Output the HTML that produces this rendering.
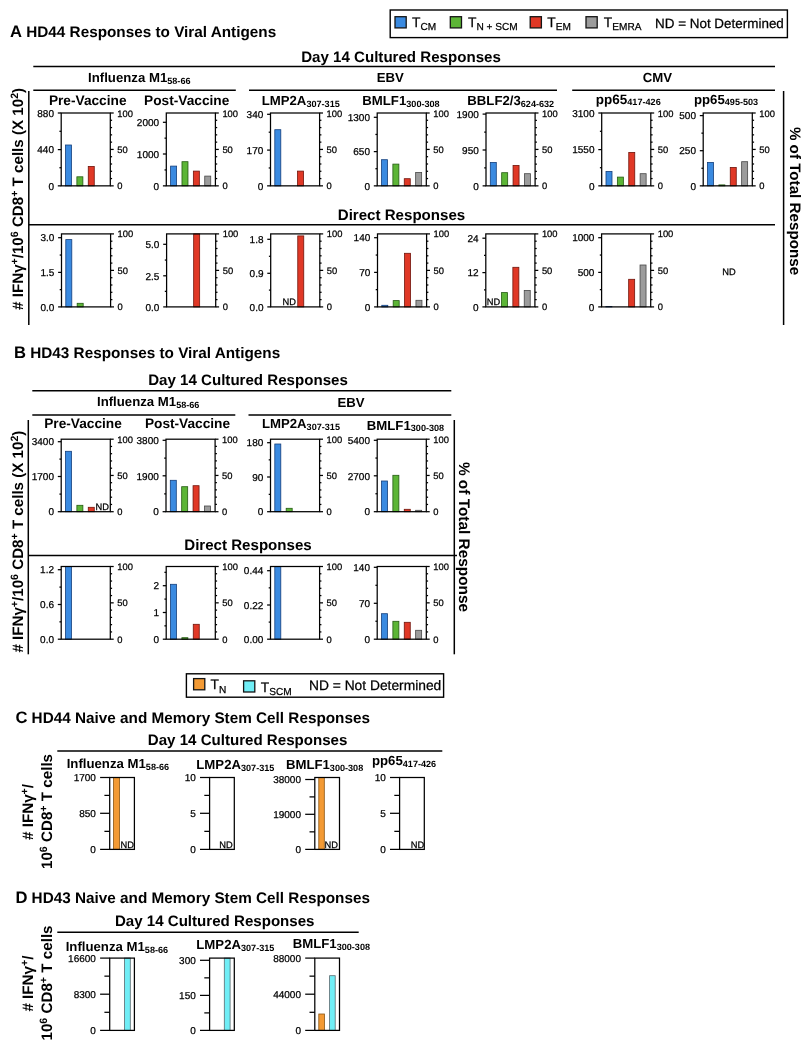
<!DOCTYPE html>
<html><head><meta charset="utf-8"><title>Figure</title>
<style>
html,body{margin:0;padding:0;background:#fff;}
body{width:811px;height:1050px;overflow:hidden;font-family:"Liberation Sans",sans-serif;}
svg{display:block;will-change:transform;font-family:"Liberation Sans",sans-serif;}
</style></head><body>
<svg width="811" height="1050" viewBox="0 0 811 1050" text-rendering="geometricPrecision">
<rect width="811" height="1050" fill="#fff"/>

<rect x="390.2" y="10" width="397.2" height="27.6" fill="#fff" stroke="#000" stroke-width="1.4"/>
<rect x="395.00" y="16.70" width="11.2" height="11.2" fill="#3a8ae0" stroke="#151515" stroke-width="1.3"/>
<text x="412.00" y="27.20" font-size="13.8" stroke="#000" stroke-width="0.25">T<tspan font-size="10.1" dy="3.2">CM</tspan></text>
<rect x="450.30" y="16.70" width="11.2" height="11.2" fill="#5cb536" stroke="#151515" stroke-width="1.3"/>
<text x="468.00" y="27.20" font-size="13.8" stroke="#000" stroke-width="0.25">T<tspan font-size="10.1" dy="3.2">N + SCM</tspan></text>
<rect x="530.20" y="16.70" width="11.2" height="11.2" fill="#e03826" stroke="#151515" stroke-width="1.3"/>
<text x="547.30" y="27.20" font-size="13.8" stroke="#000" stroke-width="0.25">T<tspan font-size="10.1" dy="3.2">EM</tspan></text>
<rect x="586.00" y="16.70" width="11.2" height="11.2" fill="#9c9c9c" stroke="#151515" stroke-width="1.3"/>
<text x="603.80" y="27.20" font-size="13.8" stroke="#000" stroke-width="0.25">T<tspan font-size="10.1" dy="3.2">EMRA</tspan></text>
<text x="655.00" y="28.30" font-size="13.45" text-anchor="start" stroke="#000" stroke-width="0.25">ND = Not Determined</text>
<text x="10" y="37" font-weight="700" font-size="16.6">A<tspan font-size="15.3"> HD44 Responses to Viral Antigens</tspan></text>
<text x="401.00" y="61.70" font-size="15.1" text-anchor="middle" font-weight="700">Day 14 Cultured Responses</text>
<line x1="33.30" y1="66.40" x2="775.00" y2="66.40" stroke="#000" stroke-width="1.5" stroke-linecap="butt"/>
<text x="139.30" y="81.80" font-size="13.2" text-anchor="middle" font-weight="700">Influenza M1<tspan font-size="9.1" dy="1.8">58-66</tspan></text>
<text x="390.30" y="81.50" font-size="13.2" text-anchor="middle" font-weight="700">EBV</text>
<text x="657.40" y="82.40" font-size="13.2" text-anchor="middle" font-weight="700">CMV</text>
<line x1="33.30" y1="90.20" x2="235.80" y2="90.20" stroke="#000" stroke-width="1.5" stroke-linecap="butt"/>
<line x1="249.00" y1="90.20" x2="557.00" y2="90.20" stroke="#000" stroke-width="1.5" stroke-linecap="butt"/>
<line x1="572.20" y1="90.20" x2="775.00" y2="90.20" stroke="#000" stroke-width="1.5" stroke-linecap="butt"/>
<line x1="28.80" y1="91.00" x2="28.80" y2="325.00" stroke="#000" stroke-width="1.5" stroke-linecap="butt"/>
<line x1="783.60" y1="91.00" x2="783.60" y2="325.00" stroke="#000" stroke-width="1.5" stroke-linecap="butt"/>
<text transform="translate(23.3 198.9) rotate(-90)" text-anchor="middle" font-weight="700" font-size="15.15"># IFN&#947;<tspan font-size="10.6" dy="-5">+</tspan><tspan dy="5">/10</tspan><tspan font-size="10.6" dy="-5">6</tspan><tspan dy="5"> CD8</tspan><tspan font-size="10.6" dy="-5">+</tspan><tspan dy="5"> T cells (X 10</tspan><tspan font-size="10.6" dy="-5">2</tspan><tspan dy="5">)</tspan></text>
<text transform="translate(790.3 201) rotate(90)" text-anchor="middle" font-weight="700" font-size="15.2">% of Total Response</text>
<text x="87.70" y="105.00" font-size="13.7" text-anchor="middle" font-weight="700">Pre-Vaccine</text>
<text x="186.70" y="105.00" font-size="13.7" text-anchor="middle" font-weight="700">Post-Vaccine</text>
<text x="261.70" y="105.00" font-size="13.2" text-anchor="start" font-weight="700">LMP2A<tspan font-size="9.1" dy="1.8">307-315</tspan></text>
<text x="362.30" y="105.00" font-size="13.2" text-anchor="start" font-weight="700">BMLF1<tspan font-size="9.1" dy="1.8">300-308</tspan></text>
<text x="467.30" y="105.00" font-size="13.2" text-anchor="start" font-weight="700">BBLF2/3<tspan font-size="9.1" dy="1.8">624-632</tspan></text>
<text x="595.80" y="103.50" font-size="13.5" text-anchor="start" font-weight="700">pp65<tspan font-size="9.1" dy="1.8">417-426</tspan></text>
<text x="694.00" y="103.50" font-size="13.2" text-anchor="start" font-weight="700">pp65<tspan font-size="9.1" dy="1.8">495-503</tspan></text>
<rect x="65.50" y="145.00" width="6.00" height="40.85" fill="#3a8ae0" stroke="#143f7c" stroke-width="0.8"/>
<rect x="76.88" y="176.80" width="6.00" height="9.05" fill="#5cb536" stroke="#245a12" stroke-width="0.8"/>
<rect x="88.26" y="166.40" width="6.00" height="19.45" fill="#e03826" stroke="#70150c" stroke-width="0.8"/>
<rect x="61.20" y="113.00" width="49.10" height="72.85" fill="none" stroke="#000" stroke-width="1.25"/>
<line x1="57.80" y1="113.00" x2="61.20" y2="113.00" stroke="#000" stroke-width="1.25" stroke-linecap="butt"/>
<text x="54.00" y="116.70" font-size="10.0" text-anchor="end" stroke="#000" stroke-width="0.25">880</text>
<line x1="57.80" y1="149.60" x2="61.20" y2="149.60" stroke="#000" stroke-width="1.25" stroke-linecap="butt"/>
<text x="54.00" y="153.30" font-size="10.0" text-anchor="end" stroke="#000" stroke-width="0.25">440</text>
<line x1="57.80" y1="185.85" x2="61.20" y2="185.85" stroke="#000" stroke-width="1.25" stroke-linecap="butt"/>
<text x="54.00" y="189.55" font-size="10.0" text-anchor="end" stroke="#000" stroke-width="0.25">0</text>
<line x1="59.40" y1="131.30" x2="61.20" y2="131.30" stroke="#000" stroke-width="1.25" stroke-linecap="butt"/>
<line x1="59.40" y1="167.72" x2="61.20" y2="167.72" stroke="#000" stroke-width="1.25" stroke-linecap="butt"/>
<line x1="110.30" y1="185.85" x2="113.70" y2="185.85" stroke="#000" stroke-width="1.25" stroke-linecap="butt"/>
<line x1="110.30" y1="178.56" x2="112.10" y2="178.56" stroke="#000" stroke-width="1.25" stroke-linecap="butt"/>
<line x1="110.30" y1="171.28" x2="112.10" y2="171.28" stroke="#000" stroke-width="1.25" stroke-linecap="butt"/>
<line x1="110.30" y1="164.00" x2="112.10" y2="164.00" stroke="#000" stroke-width="1.25" stroke-linecap="butt"/>
<line x1="110.30" y1="156.71" x2="112.10" y2="156.71" stroke="#000" stroke-width="1.25" stroke-linecap="butt"/>
<line x1="110.30" y1="149.43" x2="113.70" y2="149.43" stroke="#000" stroke-width="1.25" stroke-linecap="butt"/>
<line x1="110.30" y1="142.14" x2="112.10" y2="142.14" stroke="#000" stroke-width="1.25" stroke-linecap="butt"/>
<line x1="110.30" y1="134.86" x2="112.10" y2="134.86" stroke="#000" stroke-width="1.25" stroke-linecap="butt"/>
<line x1="110.30" y1="127.57" x2="112.10" y2="127.57" stroke="#000" stroke-width="1.25" stroke-linecap="butt"/>
<line x1="110.30" y1="120.28" x2="112.10" y2="120.28" stroke="#000" stroke-width="1.25" stroke-linecap="butt"/>
<line x1="110.30" y1="113.00" x2="113.70" y2="113.00" stroke="#000" stroke-width="1.25" stroke-linecap="butt"/>
<text x="117.30" y="116.50" font-size="9.4" text-anchor="start" stroke="#000" stroke-width="0.25">100</text>
<text x="117.30" y="152.93" font-size="9.4" text-anchor="start" stroke="#000" stroke-width="0.25">50</text>
<text x="117.30" y="189.35" font-size="9.4" text-anchor="start" stroke="#000" stroke-width="0.25">0</text>
<rect x="170.60" y="166.10" width="6.00" height="19.75" fill="#3a8ae0" stroke="#143f7c" stroke-width="0.8"/>
<rect x="181.98" y="161.70" width="6.00" height="24.15" fill="#5cb536" stroke="#245a12" stroke-width="0.8"/>
<rect x="193.36" y="171.10" width="6.00" height="14.75" fill="#e03826" stroke="#70150c" stroke-width="0.8"/>
<rect x="204.74" y="176.10" width="6.00" height="9.75" fill="#9c9c9c" stroke="#484848" stroke-width="0.8"/>
<rect x="166.30" y="113.00" width="49.10" height="72.85" fill="none" stroke="#000" stroke-width="1.25"/>
<line x1="162.90" y1="122.30" x2="166.30" y2="122.30" stroke="#000" stroke-width="1.25" stroke-linecap="butt"/>
<text x="159.10" y="126.00" font-size="10.0" text-anchor="end" stroke="#000" stroke-width="0.25">2000</text>
<line x1="162.90" y1="154.00" x2="166.30" y2="154.00" stroke="#000" stroke-width="1.25" stroke-linecap="butt"/>
<text x="159.10" y="157.70" font-size="10.0" text-anchor="end" stroke="#000" stroke-width="0.25">1000</text>
<line x1="162.90" y1="185.85" x2="166.30" y2="185.85" stroke="#000" stroke-width="1.25" stroke-linecap="butt"/>
<text x="159.10" y="189.55" font-size="10.0" text-anchor="end" stroke="#000" stroke-width="0.25">0</text>
<line x1="164.50" y1="138.15" x2="166.30" y2="138.15" stroke="#000" stroke-width="1.25" stroke-linecap="butt"/>
<line x1="164.50" y1="169.93" x2="166.30" y2="169.93" stroke="#000" stroke-width="1.25" stroke-linecap="butt"/>
<line x1="215.40" y1="185.85" x2="218.80" y2="185.85" stroke="#000" stroke-width="1.25" stroke-linecap="butt"/>
<line x1="215.40" y1="178.56" x2="217.20" y2="178.56" stroke="#000" stroke-width="1.25" stroke-linecap="butt"/>
<line x1="215.40" y1="171.28" x2="217.20" y2="171.28" stroke="#000" stroke-width="1.25" stroke-linecap="butt"/>
<line x1="215.40" y1="164.00" x2="217.20" y2="164.00" stroke="#000" stroke-width="1.25" stroke-linecap="butt"/>
<line x1="215.40" y1="156.71" x2="217.20" y2="156.71" stroke="#000" stroke-width="1.25" stroke-linecap="butt"/>
<line x1="215.40" y1="149.43" x2="218.80" y2="149.43" stroke="#000" stroke-width="1.25" stroke-linecap="butt"/>
<line x1="215.40" y1="142.14" x2="217.20" y2="142.14" stroke="#000" stroke-width="1.25" stroke-linecap="butt"/>
<line x1="215.40" y1="134.86" x2="217.20" y2="134.86" stroke="#000" stroke-width="1.25" stroke-linecap="butt"/>
<line x1="215.40" y1="127.57" x2="217.20" y2="127.57" stroke="#000" stroke-width="1.25" stroke-linecap="butt"/>
<line x1="215.40" y1="120.28" x2="217.20" y2="120.28" stroke="#000" stroke-width="1.25" stroke-linecap="butt"/>
<line x1="215.40" y1="113.00" x2="218.80" y2="113.00" stroke="#000" stroke-width="1.25" stroke-linecap="butt"/>
<text x="222.40" y="116.50" font-size="9.4" text-anchor="start" stroke="#000" stroke-width="0.25">100</text>
<text x="222.40" y="152.93" font-size="9.4" text-anchor="start" stroke="#000" stroke-width="0.25">50</text>
<text x="222.40" y="189.35" font-size="9.4" text-anchor="start" stroke="#000" stroke-width="0.25">0</text>
<rect x="274.80" y="129.70" width="6.00" height="56.15" fill="#3a8ae0" stroke="#143f7c" stroke-width="0.8"/>
<rect x="297.56" y="171.10" width="6.00" height="14.75" fill="#e03826" stroke="#70150c" stroke-width="0.8"/>
<rect x="270.50" y="113.00" width="49.10" height="72.85" fill="none" stroke="#000" stroke-width="1.25"/>
<line x1="267.10" y1="114.30" x2="270.50" y2="114.30" stroke="#000" stroke-width="1.25" stroke-linecap="butt"/>
<text x="263.30" y="118.00" font-size="10.0" text-anchor="end" stroke="#000" stroke-width="0.25">340</text>
<line x1="267.10" y1="150.10" x2="270.50" y2="150.10" stroke="#000" stroke-width="1.25" stroke-linecap="butt"/>
<text x="263.30" y="153.80" font-size="10.0" text-anchor="end" stroke="#000" stroke-width="0.25">170</text>
<line x1="267.10" y1="185.85" x2="270.50" y2="185.85" stroke="#000" stroke-width="1.25" stroke-linecap="butt"/>
<text x="263.30" y="189.55" font-size="10.0" text-anchor="end" stroke="#000" stroke-width="0.25">0</text>
<line x1="268.70" y1="132.20" x2="270.50" y2="132.20" stroke="#000" stroke-width="1.25" stroke-linecap="butt"/>
<line x1="268.70" y1="167.97" x2="270.50" y2="167.97" stroke="#000" stroke-width="1.25" stroke-linecap="butt"/>
<line x1="319.60" y1="185.85" x2="323.00" y2="185.85" stroke="#000" stroke-width="1.25" stroke-linecap="butt"/>
<line x1="319.60" y1="178.56" x2="321.40" y2="178.56" stroke="#000" stroke-width="1.25" stroke-linecap="butt"/>
<line x1="319.60" y1="171.28" x2="321.40" y2="171.28" stroke="#000" stroke-width="1.25" stroke-linecap="butt"/>
<line x1="319.60" y1="164.00" x2="321.40" y2="164.00" stroke="#000" stroke-width="1.25" stroke-linecap="butt"/>
<line x1="319.60" y1="156.71" x2="321.40" y2="156.71" stroke="#000" stroke-width="1.25" stroke-linecap="butt"/>
<line x1="319.60" y1="149.43" x2="323.00" y2="149.43" stroke="#000" stroke-width="1.25" stroke-linecap="butt"/>
<line x1="319.60" y1="142.14" x2="321.40" y2="142.14" stroke="#000" stroke-width="1.25" stroke-linecap="butt"/>
<line x1="319.60" y1="134.86" x2="321.40" y2="134.86" stroke="#000" stroke-width="1.25" stroke-linecap="butt"/>
<line x1="319.60" y1="127.57" x2="321.40" y2="127.57" stroke="#000" stroke-width="1.25" stroke-linecap="butt"/>
<line x1="319.60" y1="120.28" x2="321.40" y2="120.28" stroke="#000" stroke-width="1.25" stroke-linecap="butt"/>
<line x1="319.60" y1="113.00" x2="323.00" y2="113.00" stroke="#000" stroke-width="1.25" stroke-linecap="butt"/>
<text x="326.60" y="116.50" font-size="9.4" text-anchor="start" stroke="#000" stroke-width="0.25">100</text>
<text x="326.60" y="152.93" font-size="9.4" text-anchor="start" stroke="#000" stroke-width="0.25">50</text>
<text x="326.60" y="189.35" font-size="9.4" text-anchor="start" stroke="#000" stroke-width="0.25">0</text>
<rect x="381.50" y="159.70" width="6.00" height="26.15" fill="#3a8ae0" stroke="#143f7c" stroke-width="0.8"/>
<rect x="392.88" y="164.10" width="6.00" height="21.75" fill="#5cb536" stroke="#245a12" stroke-width="0.8"/>
<rect x="404.26" y="178.70" width="6.00" height="7.15" fill="#e03826" stroke="#70150c" stroke-width="0.8"/>
<rect x="415.64" y="172.40" width="6.00" height="13.45" fill="#9c9c9c" stroke="#484848" stroke-width="0.8"/>
<rect x="377.20" y="113.00" width="49.10" height="72.85" fill="none" stroke="#000" stroke-width="1.25"/>
<line x1="373.80" y1="117.30" x2="377.20" y2="117.30" stroke="#000" stroke-width="1.25" stroke-linecap="butt"/>
<text x="370.00" y="121.00" font-size="10.0" text-anchor="end" stroke="#000" stroke-width="0.25">1300</text>
<line x1="373.80" y1="151.60" x2="377.20" y2="151.60" stroke="#000" stroke-width="1.25" stroke-linecap="butt"/>
<text x="370.00" y="155.30" font-size="10.0" text-anchor="end" stroke="#000" stroke-width="0.25">650</text>
<line x1="373.80" y1="185.85" x2="377.20" y2="185.85" stroke="#000" stroke-width="1.25" stroke-linecap="butt"/>
<text x="370.00" y="189.55" font-size="10.0" text-anchor="end" stroke="#000" stroke-width="0.25">0</text>
<line x1="375.40" y1="134.45" x2="377.20" y2="134.45" stroke="#000" stroke-width="1.25" stroke-linecap="butt"/>
<line x1="375.40" y1="168.72" x2="377.20" y2="168.72" stroke="#000" stroke-width="1.25" stroke-linecap="butt"/>
<line x1="426.30" y1="185.85" x2="429.70" y2="185.85" stroke="#000" stroke-width="1.25" stroke-linecap="butt"/>
<line x1="426.30" y1="178.56" x2="428.10" y2="178.56" stroke="#000" stroke-width="1.25" stroke-linecap="butt"/>
<line x1="426.30" y1="171.28" x2="428.10" y2="171.28" stroke="#000" stroke-width="1.25" stroke-linecap="butt"/>
<line x1="426.30" y1="164.00" x2="428.10" y2="164.00" stroke="#000" stroke-width="1.25" stroke-linecap="butt"/>
<line x1="426.30" y1="156.71" x2="428.10" y2="156.71" stroke="#000" stroke-width="1.25" stroke-linecap="butt"/>
<line x1="426.30" y1="149.43" x2="429.70" y2="149.43" stroke="#000" stroke-width="1.25" stroke-linecap="butt"/>
<line x1="426.30" y1="142.14" x2="428.10" y2="142.14" stroke="#000" stroke-width="1.25" stroke-linecap="butt"/>
<line x1="426.30" y1="134.86" x2="428.10" y2="134.86" stroke="#000" stroke-width="1.25" stroke-linecap="butt"/>
<line x1="426.30" y1="127.57" x2="428.10" y2="127.57" stroke="#000" stroke-width="1.25" stroke-linecap="butt"/>
<line x1="426.30" y1="120.28" x2="428.10" y2="120.28" stroke="#000" stroke-width="1.25" stroke-linecap="butt"/>
<line x1="426.30" y1="113.00" x2="429.70" y2="113.00" stroke="#000" stroke-width="1.25" stroke-linecap="butt"/>
<text x="433.30" y="116.50" font-size="9.4" text-anchor="start" stroke="#000" stroke-width="0.25">100</text>
<text x="433.30" y="152.93" font-size="9.4" text-anchor="start" stroke="#000" stroke-width="0.25">50</text>
<text x="433.30" y="189.35" font-size="9.4" text-anchor="start" stroke="#000" stroke-width="0.25">0</text>
<rect x="490.30" y="162.40" width="6.00" height="23.45" fill="#3a8ae0" stroke="#143f7c" stroke-width="0.8"/>
<rect x="501.68" y="172.70" width="6.00" height="13.15" fill="#5cb536" stroke="#245a12" stroke-width="0.8"/>
<rect x="513.06" y="165.40" width="6.00" height="20.45" fill="#e03826" stroke="#70150c" stroke-width="0.8"/>
<rect x="524.44" y="173.70" width="6.00" height="12.15" fill="#9c9c9c" stroke="#484848" stroke-width="0.8"/>
<rect x="486.00" y="113.00" width="49.10" height="72.85" fill="none" stroke="#000" stroke-width="1.25"/>
<line x1="482.60" y1="114.10" x2="486.00" y2="114.10" stroke="#000" stroke-width="1.25" stroke-linecap="butt"/>
<text x="478.80" y="117.80" font-size="10.0" text-anchor="end" stroke="#000" stroke-width="0.25">1900</text>
<line x1="482.60" y1="150.00" x2="486.00" y2="150.00" stroke="#000" stroke-width="1.25" stroke-linecap="butt"/>
<text x="478.80" y="153.70" font-size="10.0" text-anchor="end" stroke="#000" stroke-width="0.25">950</text>
<line x1="482.60" y1="185.85" x2="486.00" y2="185.85" stroke="#000" stroke-width="1.25" stroke-linecap="butt"/>
<text x="478.80" y="189.55" font-size="10.0" text-anchor="end" stroke="#000" stroke-width="0.25">0</text>
<line x1="484.20" y1="132.05" x2="486.00" y2="132.05" stroke="#000" stroke-width="1.25" stroke-linecap="butt"/>
<line x1="484.20" y1="167.93" x2="486.00" y2="167.93" stroke="#000" stroke-width="1.25" stroke-linecap="butt"/>
<line x1="535.10" y1="185.85" x2="538.50" y2="185.85" stroke="#000" stroke-width="1.25" stroke-linecap="butt"/>
<line x1="535.10" y1="178.56" x2="536.90" y2="178.56" stroke="#000" stroke-width="1.25" stroke-linecap="butt"/>
<line x1="535.10" y1="171.28" x2="536.90" y2="171.28" stroke="#000" stroke-width="1.25" stroke-linecap="butt"/>
<line x1="535.10" y1="164.00" x2="536.90" y2="164.00" stroke="#000" stroke-width="1.25" stroke-linecap="butt"/>
<line x1="535.10" y1="156.71" x2="536.90" y2="156.71" stroke="#000" stroke-width="1.25" stroke-linecap="butt"/>
<line x1="535.10" y1="149.43" x2="538.50" y2="149.43" stroke="#000" stroke-width="1.25" stroke-linecap="butt"/>
<line x1="535.10" y1="142.14" x2="536.90" y2="142.14" stroke="#000" stroke-width="1.25" stroke-linecap="butt"/>
<line x1="535.10" y1="134.86" x2="536.90" y2="134.86" stroke="#000" stroke-width="1.25" stroke-linecap="butt"/>
<line x1="535.10" y1="127.57" x2="536.90" y2="127.57" stroke="#000" stroke-width="1.25" stroke-linecap="butt"/>
<line x1="535.10" y1="120.28" x2="536.90" y2="120.28" stroke="#000" stroke-width="1.25" stroke-linecap="butt"/>
<line x1="535.10" y1="113.00" x2="538.50" y2="113.00" stroke="#000" stroke-width="1.25" stroke-linecap="butt"/>
<text x="542.10" y="116.50" font-size="9.4" text-anchor="start" stroke="#000" stroke-width="0.25">100</text>
<text x="542.10" y="152.93" font-size="9.4" text-anchor="start" stroke="#000" stroke-width="0.25">50</text>
<text x="542.10" y="189.35" font-size="9.4" text-anchor="start" stroke="#000" stroke-width="0.25">0</text>
<rect x="606.00" y="171.40" width="6.00" height="14.45" fill="#3a8ae0" stroke="#143f7c" stroke-width="0.8"/>
<rect x="617.38" y="177.10" width="6.00" height="8.75" fill="#5cb536" stroke="#245a12" stroke-width="0.8"/>
<rect x="628.76" y="152.40" width="6.00" height="33.45" fill="#e03826" stroke="#70150c" stroke-width="0.8"/>
<rect x="640.14" y="173.70" width="6.00" height="12.15" fill="#9c9c9c" stroke="#484848" stroke-width="0.8"/>
<rect x="601.70" y="113.00" width="49.10" height="72.85" fill="none" stroke="#000" stroke-width="1.25"/>
<line x1="598.30" y1="113.00" x2="601.70" y2="113.00" stroke="#000" stroke-width="1.25" stroke-linecap="butt"/>
<text x="594.50" y="116.70" font-size="10.0" text-anchor="end" stroke="#000" stroke-width="0.25">3100</text>
<line x1="598.30" y1="149.60" x2="601.70" y2="149.60" stroke="#000" stroke-width="1.25" stroke-linecap="butt"/>
<text x="594.50" y="153.30" font-size="10.0" text-anchor="end" stroke="#000" stroke-width="0.25">1550</text>
<line x1="598.30" y1="185.85" x2="601.70" y2="185.85" stroke="#000" stroke-width="1.25" stroke-linecap="butt"/>
<text x="594.50" y="189.55" font-size="10.0" text-anchor="end" stroke="#000" stroke-width="0.25">0</text>
<line x1="599.90" y1="131.30" x2="601.70" y2="131.30" stroke="#000" stroke-width="1.25" stroke-linecap="butt"/>
<line x1="599.90" y1="167.72" x2="601.70" y2="167.72" stroke="#000" stroke-width="1.25" stroke-linecap="butt"/>
<line x1="650.80" y1="185.85" x2="654.20" y2="185.85" stroke="#000" stroke-width="1.25" stroke-linecap="butt"/>
<line x1="650.80" y1="178.56" x2="652.60" y2="178.56" stroke="#000" stroke-width="1.25" stroke-linecap="butt"/>
<line x1="650.80" y1="171.28" x2="652.60" y2="171.28" stroke="#000" stroke-width="1.25" stroke-linecap="butt"/>
<line x1="650.80" y1="164.00" x2="652.60" y2="164.00" stroke="#000" stroke-width="1.25" stroke-linecap="butt"/>
<line x1="650.80" y1="156.71" x2="652.60" y2="156.71" stroke="#000" stroke-width="1.25" stroke-linecap="butt"/>
<line x1="650.80" y1="149.43" x2="654.20" y2="149.43" stroke="#000" stroke-width="1.25" stroke-linecap="butt"/>
<line x1="650.80" y1="142.14" x2="652.60" y2="142.14" stroke="#000" stroke-width="1.25" stroke-linecap="butt"/>
<line x1="650.80" y1="134.86" x2="652.60" y2="134.86" stroke="#000" stroke-width="1.25" stroke-linecap="butt"/>
<line x1="650.80" y1="127.57" x2="652.60" y2="127.57" stroke="#000" stroke-width="1.25" stroke-linecap="butt"/>
<line x1="650.80" y1="120.28" x2="652.60" y2="120.28" stroke="#000" stroke-width="1.25" stroke-linecap="butt"/>
<line x1="650.80" y1="113.00" x2="654.20" y2="113.00" stroke="#000" stroke-width="1.25" stroke-linecap="butt"/>
<text x="657.80" y="116.50" font-size="9.4" text-anchor="start" stroke="#000" stroke-width="0.25">100</text>
<text x="657.80" y="152.93" font-size="9.4" text-anchor="start" stroke="#000" stroke-width="0.25">50</text>
<text x="657.80" y="189.35" font-size="9.4" text-anchor="start" stroke="#000" stroke-width="0.25">0</text>
<rect x="707.50" y="162.40" width="6.00" height="23.45" fill="#3a8ae0" stroke="#143f7c" stroke-width="0.8"/>
<rect x="718.88" y="184.90" width="6.00" height="0.95" fill="#5cb536" stroke="#245a12" stroke-width="0.8"/>
<rect x="730.26" y="167.40" width="6.00" height="18.45" fill="#e03826" stroke="#70150c" stroke-width="0.8"/>
<rect x="741.64" y="161.70" width="6.00" height="24.15" fill="#9c9c9c" stroke="#484848" stroke-width="0.8"/>
<rect x="703.20" y="113.00" width="49.10" height="72.85" fill="none" stroke="#000" stroke-width="1.25"/>
<line x1="699.80" y1="115.60" x2="703.20" y2="115.60" stroke="#000" stroke-width="1.25" stroke-linecap="butt"/>
<text x="696.00" y="119.30" font-size="10.0" text-anchor="end" stroke="#000" stroke-width="0.25">500</text>
<line x1="699.80" y1="150.70" x2="703.20" y2="150.70" stroke="#000" stroke-width="1.25" stroke-linecap="butt"/>
<text x="696.00" y="154.40" font-size="10.0" text-anchor="end" stroke="#000" stroke-width="0.25">250</text>
<line x1="699.80" y1="185.85" x2="703.20" y2="185.85" stroke="#000" stroke-width="1.25" stroke-linecap="butt"/>
<text x="696.00" y="189.55" font-size="10.0" text-anchor="end" stroke="#000" stroke-width="0.25">0</text>
<line x1="701.40" y1="133.15" x2="703.20" y2="133.15" stroke="#000" stroke-width="1.25" stroke-linecap="butt"/>
<line x1="701.40" y1="168.27" x2="703.20" y2="168.27" stroke="#000" stroke-width="1.25" stroke-linecap="butt"/>
<line x1="752.30" y1="185.85" x2="755.70" y2="185.85" stroke="#000" stroke-width="1.25" stroke-linecap="butt"/>
<line x1="752.30" y1="178.56" x2="754.10" y2="178.56" stroke="#000" stroke-width="1.25" stroke-linecap="butt"/>
<line x1="752.30" y1="171.28" x2="754.10" y2="171.28" stroke="#000" stroke-width="1.25" stroke-linecap="butt"/>
<line x1="752.30" y1="164.00" x2="754.10" y2="164.00" stroke="#000" stroke-width="1.25" stroke-linecap="butt"/>
<line x1="752.30" y1="156.71" x2="754.10" y2="156.71" stroke="#000" stroke-width="1.25" stroke-linecap="butt"/>
<line x1="752.30" y1="149.43" x2="755.70" y2="149.43" stroke="#000" stroke-width="1.25" stroke-linecap="butt"/>
<line x1="752.30" y1="142.14" x2="754.10" y2="142.14" stroke="#000" stroke-width="1.25" stroke-linecap="butt"/>
<line x1="752.30" y1="134.86" x2="754.10" y2="134.86" stroke="#000" stroke-width="1.25" stroke-linecap="butt"/>
<line x1="752.30" y1="127.57" x2="754.10" y2="127.57" stroke="#000" stroke-width="1.25" stroke-linecap="butt"/>
<line x1="752.30" y1="120.28" x2="754.10" y2="120.28" stroke="#000" stroke-width="1.25" stroke-linecap="butt"/>
<line x1="752.30" y1="113.00" x2="755.70" y2="113.00" stroke="#000" stroke-width="1.25" stroke-linecap="butt"/>
<text x="759.30" y="116.50" font-size="9.4" text-anchor="start" stroke="#000" stroke-width="0.25">100</text>
<text x="759.30" y="152.93" font-size="9.4" text-anchor="start" stroke="#000" stroke-width="0.25">50</text>
<text x="759.30" y="189.35" font-size="9.4" text-anchor="start" stroke="#000" stroke-width="0.25">0</text>
<text x="401.50" y="219.60" font-size="15.1" text-anchor="middle" font-weight="700">Direct Responses</text>
<line x1="28.80" y1="224.70" x2="775.00" y2="224.70" stroke="#000" stroke-width="1.5" stroke-linecap="butt"/>
<rect x="65.80" y="239.60" width="6.00" height="67.30" fill="#3a8ae0" stroke="#143f7c" stroke-width="0.8"/>
<rect x="77.18" y="303.30" width="6.00" height="3.60" fill="#5cb536" stroke="#245a12" stroke-width="0.8"/>
<rect x="61.50" y="233.90" width="49.10" height="73.00" fill="none" stroke="#000" stroke-width="1.25"/>
<line x1="58.10" y1="237.70" x2="61.50" y2="237.70" stroke="#000" stroke-width="1.25" stroke-linecap="butt"/>
<text x="54.30" y="241.40" font-size="10.0" text-anchor="end" stroke="#000" stroke-width="0.25">3.0</text>
<line x1="58.10" y1="272.40" x2="61.50" y2="272.40" stroke="#000" stroke-width="1.25" stroke-linecap="butt"/>
<text x="54.30" y="276.10" font-size="10.0" text-anchor="end" stroke="#000" stroke-width="0.25">1.5</text>
<line x1="58.10" y1="306.90" x2="61.50" y2="306.90" stroke="#000" stroke-width="1.25" stroke-linecap="butt"/>
<text x="54.30" y="310.60" font-size="10.0" text-anchor="end" stroke="#000" stroke-width="0.25">0.0</text>
<line x1="59.70" y1="255.05" x2="61.50" y2="255.05" stroke="#000" stroke-width="1.25" stroke-linecap="butt"/>
<line x1="59.70" y1="289.65" x2="61.50" y2="289.65" stroke="#000" stroke-width="1.25" stroke-linecap="butt"/>
<line x1="110.60" y1="306.90" x2="114.00" y2="306.90" stroke="#000" stroke-width="1.25" stroke-linecap="butt"/>
<line x1="110.60" y1="299.60" x2="112.40" y2="299.60" stroke="#000" stroke-width="1.25" stroke-linecap="butt"/>
<line x1="110.60" y1="292.30" x2="112.40" y2="292.30" stroke="#000" stroke-width="1.25" stroke-linecap="butt"/>
<line x1="110.60" y1="285.00" x2="112.40" y2="285.00" stroke="#000" stroke-width="1.25" stroke-linecap="butt"/>
<line x1="110.60" y1="277.70" x2="112.40" y2="277.70" stroke="#000" stroke-width="1.25" stroke-linecap="butt"/>
<line x1="110.60" y1="270.40" x2="114.00" y2="270.40" stroke="#000" stroke-width="1.25" stroke-linecap="butt"/>
<line x1="110.60" y1="263.10" x2="112.40" y2="263.10" stroke="#000" stroke-width="1.25" stroke-linecap="butt"/>
<line x1="110.60" y1="255.80" x2="112.40" y2="255.80" stroke="#000" stroke-width="1.25" stroke-linecap="butt"/>
<line x1="110.60" y1="248.50" x2="112.40" y2="248.50" stroke="#000" stroke-width="1.25" stroke-linecap="butt"/>
<line x1="110.60" y1="241.20" x2="112.40" y2="241.20" stroke="#000" stroke-width="1.25" stroke-linecap="butt"/>
<line x1="110.60" y1="233.90" x2="114.00" y2="233.90" stroke="#000" stroke-width="1.25" stroke-linecap="butt"/>
<text x="117.60" y="237.40" font-size="9.4" text-anchor="start" stroke="#000" stroke-width="0.25">100</text>
<text x="117.60" y="273.90" font-size="9.4" text-anchor="start" stroke="#000" stroke-width="0.25">50</text>
<text x="117.60" y="310.40" font-size="9.4" text-anchor="start" stroke="#000" stroke-width="0.25">0</text>
<rect x="193.66" y="233.90" width="6.00" height="73.00" fill="#e03826" stroke="#70150c" stroke-width="0.8"/>
<rect x="166.60" y="233.90" width="49.10" height="73.00" fill="none" stroke="#000" stroke-width="1.25"/>
<line x1="163.20" y1="244.30" x2="166.60" y2="244.30" stroke="#000" stroke-width="1.25" stroke-linecap="butt"/>
<text x="159.40" y="248.00" font-size="10.0" text-anchor="end" stroke="#000" stroke-width="0.25">5.0</text>
<line x1="163.20" y1="275.80" x2="166.60" y2="275.80" stroke="#000" stroke-width="1.25" stroke-linecap="butt"/>
<text x="159.40" y="279.50" font-size="10.0" text-anchor="end" stroke="#000" stroke-width="0.25">2.5</text>
<line x1="163.20" y1="306.90" x2="166.60" y2="306.90" stroke="#000" stroke-width="1.25" stroke-linecap="butt"/>
<text x="159.40" y="310.60" font-size="10.0" text-anchor="end" stroke="#000" stroke-width="0.25">0.0</text>
<line x1="164.80" y1="260.05" x2="166.60" y2="260.05" stroke="#000" stroke-width="1.25" stroke-linecap="butt"/>
<line x1="164.80" y1="291.35" x2="166.60" y2="291.35" stroke="#000" stroke-width="1.25" stroke-linecap="butt"/>
<line x1="215.70" y1="306.90" x2="219.10" y2="306.90" stroke="#000" stroke-width="1.25" stroke-linecap="butt"/>
<line x1="215.70" y1="299.60" x2="217.50" y2="299.60" stroke="#000" stroke-width="1.25" stroke-linecap="butt"/>
<line x1="215.70" y1="292.30" x2="217.50" y2="292.30" stroke="#000" stroke-width="1.25" stroke-linecap="butt"/>
<line x1="215.70" y1="285.00" x2="217.50" y2="285.00" stroke="#000" stroke-width="1.25" stroke-linecap="butt"/>
<line x1="215.70" y1="277.70" x2="217.50" y2="277.70" stroke="#000" stroke-width="1.25" stroke-linecap="butt"/>
<line x1="215.70" y1="270.40" x2="219.10" y2="270.40" stroke="#000" stroke-width="1.25" stroke-linecap="butt"/>
<line x1="215.70" y1="263.10" x2="217.50" y2="263.10" stroke="#000" stroke-width="1.25" stroke-linecap="butt"/>
<line x1="215.70" y1="255.80" x2="217.50" y2="255.80" stroke="#000" stroke-width="1.25" stroke-linecap="butt"/>
<line x1="215.70" y1="248.50" x2="217.50" y2="248.50" stroke="#000" stroke-width="1.25" stroke-linecap="butt"/>
<line x1="215.70" y1="241.20" x2="217.50" y2="241.20" stroke="#000" stroke-width="1.25" stroke-linecap="butt"/>
<line x1="215.70" y1="233.90" x2="219.10" y2="233.90" stroke="#000" stroke-width="1.25" stroke-linecap="butt"/>
<text x="222.70" y="237.40" font-size="9.4" text-anchor="start" stroke="#000" stroke-width="0.25">100</text>
<text x="222.70" y="273.90" font-size="9.4" text-anchor="start" stroke="#000" stroke-width="0.25">50</text>
<text x="222.70" y="310.40" font-size="9.4" text-anchor="start" stroke="#000" stroke-width="0.25">0</text>
<rect x="297.76" y="235.90" width="6.00" height="71.00" fill="#e03826" stroke="#70150c" stroke-width="0.8"/>
<rect x="270.70" y="233.90" width="49.10" height="73.00" fill="none" stroke="#000" stroke-width="1.25"/>
<line x1="267.30" y1="239.30" x2="270.70" y2="239.30" stroke="#000" stroke-width="1.25" stroke-linecap="butt"/>
<text x="263.50" y="243.00" font-size="10.0" text-anchor="end" stroke="#000" stroke-width="0.25">1.8</text>
<line x1="267.30" y1="273.30" x2="270.70" y2="273.30" stroke="#000" stroke-width="1.25" stroke-linecap="butt"/>
<text x="263.50" y="277.00" font-size="10.0" text-anchor="end" stroke="#000" stroke-width="0.25">0.9</text>
<line x1="267.30" y1="306.90" x2="270.70" y2="306.90" stroke="#000" stroke-width="1.25" stroke-linecap="butt"/>
<text x="263.50" y="310.60" font-size="10.0" text-anchor="end" stroke="#000" stroke-width="0.25">0.0</text>
<line x1="268.90" y1="256.30" x2="270.70" y2="256.30" stroke="#000" stroke-width="1.25" stroke-linecap="butt"/>
<line x1="268.90" y1="290.10" x2="270.70" y2="290.10" stroke="#000" stroke-width="1.25" stroke-linecap="butt"/>
<line x1="319.80" y1="306.90" x2="323.20" y2="306.90" stroke="#000" stroke-width="1.25" stroke-linecap="butt"/>
<line x1="319.80" y1="299.60" x2="321.60" y2="299.60" stroke="#000" stroke-width="1.25" stroke-linecap="butt"/>
<line x1="319.80" y1="292.30" x2="321.60" y2="292.30" stroke="#000" stroke-width="1.25" stroke-linecap="butt"/>
<line x1="319.80" y1="285.00" x2="321.60" y2="285.00" stroke="#000" stroke-width="1.25" stroke-linecap="butt"/>
<line x1="319.80" y1="277.70" x2="321.60" y2="277.70" stroke="#000" stroke-width="1.25" stroke-linecap="butt"/>
<line x1="319.80" y1="270.40" x2="323.20" y2="270.40" stroke="#000" stroke-width="1.25" stroke-linecap="butt"/>
<line x1="319.80" y1="263.10" x2="321.60" y2="263.10" stroke="#000" stroke-width="1.25" stroke-linecap="butt"/>
<line x1="319.80" y1="255.80" x2="321.60" y2="255.80" stroke="#000" stroke-width="1.25" stroke-linecap="butt"/>
<line x1="319.80" y1="248.50" x2="321.60" y2="248.50" stroke="#000" stroke-width="1.25" stroke-linecap="butt"/>
<line x1="319.80" y1="241.20" x2="321.60" y2="241.20" stroke="#000" stroke-width="1.25" stroke-linecap="butt"/>
<line x1="319.80" y1="233.90" x2="323.20" y2="233.90" stroke="#000" stroke-width="1.25" stroke-linecap="butt"/>
<text x="326.80" y="237.40" font-size="9.4" text-anchor="start" stroke="#000" stroke-width="0.25">100</text>
<text x="326.80" y="273.90" font-size="9.4" text-anchor="start" stroke="#000" stroke-width="0.25">50</text>
<text x="326.80" y="310.40" font-size="9.4" text-anchor="start" stroke="#000" stroke-width="0.25">0</text>
<text x="282.50" y="305.00" font-size="9.3" text-anchor="start" stroke="#000" stroke-width="0.25">ND</text>
<rect x="381.80" y="305.30" width="6.00" height="1.60" fill="#3a8ae0" stroke="#143f7c" stroke-width="0.8"/>
<rect x="393.18" y="300.60" width="6.00" height="6.30" fill="#5cb536" stroke="#245a12" stroke-width="0.8"/>
<rect x="404.56" y="253.30" width="6.00" height="53.60" fill="#e03826" stroke="#70150c" stroke-width="0.8"/>
<rect x="415.94" y="300.30" width="6.00" height="6.60" fill="#9c9c9c" stroke="#484848" stroke-width="0.8"/>
<rect x="377.50" y="233.90" width="49.10" height="73.00" fill="none" stroke="#000" stroke-width="1.25"/>
<line x1="374.10" y1="237.70" x2="377.50" y2="237.70" stroke="#000" stroke-width="1.25" stroke-linecap="butt"/>
<text x="370.30" y="241.40" font-size="10.0" text-anchor="end" stroke="#000" stroke-width="0.25">140</text>
<line x1="374.10" y1="272.40" x2="377.50" y2="272.40" stroke="#000" stroke-width="1.25" stroke-linecap="butt"/>
<text x="370.30" y="276.10" font-size="10.0" text-anchor="end" stroke="#000" stroke-width="0.25">70</text>
<line x1="374.10" y1="306.90" x2="377.50" y2="306.90" stroke="#000" stroke-width="1.25" stroke-linecap="butt"/>
<text x="370.30" y="310.60" font-size="10.0" text-anchor="end" stroke="#000" stroke-width="0.25">0</text>
<line x1="375.70" y1="255.05" x2="377.50" y2="255.05" stroke="#000" stroke-width="1.25" stroke-linecap="butt"/>
<line x1="375.70" y1="289.65" x2="377.50" y2="289.65" stroke="#000" stroke-width="1.25" stroke-linecap="butt"/>
<line x1="426.60" y1="306.90" x2="430.00" y2="306.90" stroke="#000" stroke-width="1.25" stroke-linecap="butt"/>
<line x1="426.60" y1="299.60" x2="428.40" y2="299.60" stroke="#000" stroke-width="1.25" stroke-linecap="butt"/>
<line x1="426.60" y1="292.30" x2="428.40" y2="292.30" stroke="#000" stroke-width="1.25" stroke-linecap="butt"/>
<line x1="426.60" y1="285.00" x2="428.40" y2="285.00" stroke="#000" stroke-width="1.25" stroke-linecap="butt"/>
<line x1="426.60" y1="277.70" x2="428.40" y2="277.70" stroke="#000" stroke-width="1.25" stroke-linecap="butt"/>
<line x1="426.60" y1="270.40" x2="430.00" y2="270.40" stroke="#000" stroke-width="1.25" stroke-linecap="butt"/>
<line x1="426.60" y1="263.10" x2="428.40" y2="263.10" stroke="#000" stroke-width="1.25" stroke-linecap="butt"/>
<line x1="426.60" y1="255.80" x2="428.40" y2="255.80" stroke="#000" stroke-width="1.25" stroke-linecap="butt"/>
<line x1="426.60" y1="248.50" x2="428.40" y2="248.50" stroke="#000" stroke-width="1.25" stroke-linecap="butt"/>
<line x1="426.60" y1="241.20" x2="428.40" y2="241.20" stroke="#000" stroke-width="1.25" stroke-linecap="butt"/>
<line x1="426.60" y1="233.90" x2="430.00" y2="233.90" stroke="#000" stroke-width="1.25" stroke-linecap="butt"/>
<text x="433.60" y="237.40" font-size="9.4" text-anchor="start" stroke="#000" stroke-width="0.25">100</text>
<text x="433.60" y="273.90" font-size="9.4" text-anchor="start" stroke="#000" stroke-width="0.25">50</text>
<text x="433.60" y="310.40" font-size="9.4" text-anchor="start" stroke="#000" stroke-width="0.25">0</text>
<rect x="501.48" y="292.60" width="6.00" height="14.30" fill="#5cb536" stroke="#245a12" stroke-width="0.8"/>
<rect x="512.86" y="267.30" width="6.00" height="39.60" fill="#e03826" stroke="#70150c" stroke-width="0.8"/>
<rect x="524.24" y="290.40" width="6.00" height="16.50" fill="#9c9c9c" stroke="#484848" stroke-width="0.8"/>
<rect x="485.80" y="233.90" width="49.10" height="73.00" fill="none" stroke="#000" stroke-width="1.25"/>
<line x1="482.40" y1="238.20" x2="485.80" y2="238.20" stroke="#000" stroke-width="1.25" stroke-linecap="butt"/>
<text x="478.60" y="241.90" font-size="10.0" text-anchor="end" stroke="#000" stroke-width="0.25">24</text>
<line x1="482.40" y1="272.60" x2="485.80" y2="272.60" stroke="#000" stroke-width="1.25" stroke-linecap="butt"/>
<text x="478.60" y="276.30" font-size="10.0" text-anchor="end" stroke="#000" stroke-width="0.25">12</text>
<line x1="482.40" y1="306.90" x2="485.80" y2="306.90" stroke="#000" stroke-width="1.25" stroke-linecap="butt"/>
<text x="478.60" y="310.60" font-size="10.0" text-anchor="end" stroke="#000" stroke-width="0.25">0</text>
<line x1="484.00" y1="255.40" x2="485.80" y2="255.40" stroke="#000" stroke-width="1.25" stroke-linecap="butt"/>
<line x1="484.00" y1="289.75" x2="485.80" y2="289.75" stroke="#000" stroke-width="1.25" stroke-linecap="butt"/>
<line x1="534.90" y1="306.90" x2="538.30" y2="306.90" stroke="#000" stroke-width="1.25" stroke-linecap="butt"/>
<line x1="534.90" y1="299.60" x2="536.70" y2="299.60" stroke="#000" stroke-width="1.25" stroke-linecap="butt"/>
<line x1="534.90" y1="292.30" x2="536.70" y2="292.30" stroke="#000" stroke-width="1.25" stroke-linecap="butt"/>
<line x1="534.90" y1="285.00" x2="536.70" y2="285.00" stroke="#000" stroke-width="1.25" stroke-linecap="butt"/>
<line x1="534.90" y1="277.70" x2="536.70" y2="277.70" stroke="#000" stroke-width="1.25" stroke-linecap="butt"/>
<line x1="534.90" y1="270.40" x2="538.30" y2="270.40" stroke="#000" stroke-width="1.25" stroke-linecap="butt"/>
<line x1="534.90" y1="263.10" x2="536.70" y2="263.10" stroke="#000" stroke-width="1.25" stroke-linecap="butt"/>
<line x1="534.90" y1="255.80" x2="536.70" y2="255.80" stroke="#000" stroke-width="1.25" stroke-linecap="butt"/>
<line x1="534.90" y1="248.50" x2="536.70" y2="248.50" stroke="#000" stroke-width="1.25" stroke-linecap="butt"/>
<line x1="534.90" y1="241.20" x2="536.70" y2="241.20" stroke="#000" stroke-width="1.25" stroke-linecap="butt"/>
<line x1="534.90" y1="233.90" x2="538.30" y2="233.90" stroke="#000" stroke-width="1.25" stroke-linecap="butt"/>
<text x="541.90" y="237.40" font-size="9.4" text-anchor="start" stroke="#000" stroke-width="0.25">100</text>
<text x="541.90" y="273.90" font-size="9.4" text-anchor="start" stroke="#000" stroke-width="0.25">50</text>
<text x="541.90" y="310.40" font-size="9.4" text-anchor="start" stroke="#000" stroke-width="0.25">0</text>
<text x="486.80" y="305.00" font-size="9.3" text-anchor="start" stroke="#000" stroke-width="0.25">ND</text>
<rect x="605.90" y="306.40" width="6.00" height="0.50" fill="#3a8ae0" stroke="#143f7c" stroke-width="0.8"/>
<rect x="628.66" y="279.30" width="6.00" height="27.60" fill="#e03826" stroke="#70150c" stroke-width="0.8"/>
<rect x="640.04" y="265.00" width="6.00" height="41.90" fill="#9c9c9c" stroke="#484848" stroke-width="0.8"/>
<rect x="601.60" y="233.90" width="49.10" height="73.00" fill="none" stroke="#000" stroke-width="1.25"/>
<line x1="598.20" y1="237.70" x2="601.60" y2="237.70" stroke="#000" stroke-width="1.25" stroke-linecap="butt"/>
<text x="594.40" y="241.40" font-size="10.0" text-anchor="end" stroke="#000" stroke-width="0.25">1000</text>
<line x1="598.20" y1="272.40" x2="601.60" y2="272.40" stroke="#000" stroke-width="1.25" stroke-linecap="butt"/>
<text x="594.40" y="276.10" font-size="10.0" text-anchor="end" stroke="#000" stroke-width="0.25">500</text>
<line x1="598.20" y1="306.90" x2="601.60" y2="306.90" stroke="#000" stroke-width="1.25" stroke-linecap="butt"/>
<text x="594.40" y="310.60" font-size="10.0" text-anchor="end" stroke="#000" stroke-width="0.25">0</text>
<line x1="599.80" y1="255.05" x2="601.60" y2="255.05" stroke="#000" stroke-width="1.25" stroke-linecap="butt"/>
<line x1="599.80" y1="289.65" x2="601.60" y2="289.65" stroke="#000" stroke-width="1.25" stroke-linecap="butt"/>
<line x1="650.70" y1="306.90" x2="654.10" y2="306.90" stroke="#000" stroke-width="1.25" stroke-linecap="butt"/>
<line x1="650.70" y1="299.60" x2="652.50" y2="299.60" stroke="#000" stroke-width="1.25" stroke-linecap="butt"/>
<line x1="650.70" y1="292.30" x2="652.50" y2="292.30" stroke="#000" stroke-width="1.25" stroke-linecap="butt"/>
<line x1="650.70" y1="285.00" x2="652.50" y2="285.00" stroke="#000" stroke-width="1.25" stroke-linecap="butt"/>
<line x1="650.70" y1="277.70" x2="652.50" y2="277.70" stroke="#000" stroke-width="1.25" stroke-linecap="butt"/>
<line x1="650.70" y1="270.40" x2="654.10" y2="270.40" stroke="#000" stroke-width="1.25" stroke-linecap="butt"/>
<line x1="650.70" y1="263.10" x2="652.50" y2="263.10" stroke="#000" stroke-width="1.25" stroke-linecap="butt"/>
<line x1="650.70" y1="255.80" x2="652.50" y2="255.80" stroke="#000" stroke-width="1.25" stroke-linecap="butt"/>
<line x1="650.70" y1="248.50" x2="652.50" y2="248.50" stroke="#000" stroke-width="1.25" stroke-linecap="butt"/>
<line x1="650.70" y1="241.20" x2="652.50" y2="241.20" stroke="#000" stroke-width="1.25" stroke-linecap="butt"/>
<line x1="650.70" y1="233.90" x2="654.10" y2="233.90" stroke="#000" stroke-width="1.25" stroke-linecap="butt"/>
<text x="657.70" y="237.40" font-size="9.4" text-anchor="start" stroke="#000" stroke-width="0.25">100</text>
<text x="657.70" y="273.90" font-size="9.4" text-anchor="start" stroke="#000" stroke-width="0.25">50</text>
<text x="657.70" y="310.40" font-size="9.4" text-anchor="start" stroke="#000" stroke-width="0.25">0</text>
<text x="729.00" y="275.20" font-size="9.3" text-anchor="middle" stroke="#000" stroke-width="0.25">ND</text>
<text x="14" y="357.7" font-weight="700" font-size="16.6">B<tspan font-size="15.3"> HD43 Responses to Viral Antigens</tspan></text>
<text x="248.00" y="385.00" font-size="15.1" text-anchor="middle" font-weight="700">Day 14 Cultured Responses</text>
<line x1="32.30" y1="390.70" x2="451.30" y2="390.70" stroke="#000" stroke-width="1.5" stroke-linecap="butt"/>
<text x="148.20" y="406.30" font-size="13.2" text-anchor="middle" font-weight="700">Influenza M1<tspan font-size="9.1" dy="1.8">58-66</tspan></text>
<text x="351.00" y="406.60" font-size="13.2" text-anchor="middle" font-weight="700">EBV</text>
<line x1="32.30" y1="415.00" x2="235.30" y2="415.00" stroke="#000" stroke-width="1.5" stroke-linecap="butt"/>
<line x1="248.50" y1="415.00" x2="451.30" y2="415.00" stroke="#000" stroke-width="1.5" stroke-linecap="butt"/>
<line x1="28.30" y1="420.00" x2="28.30" y2="654.30" stroke="#000" stroke-width="1.5" stroke-linecap="butt"/>
<line x1="454.30" y1="420.00" x2="454.30" y2="654.30" stroke="#000" stroke-width="1.5" stroke-linecap="butt"/>
<text transform="translate(23.0 541.6) rotate(-90)" text-anchor="middle" font-weight="700" font-size="15.15"># IFN&#947;<tspan font-size="10.6" dy="-5">+</tspan><tspan dy="5">/10</tspan><tspan font-size="10.6" dy="-5">6</tspan><tspan dy="5"> CD8</tspan><tspan font-size="10.6" dy="-5">+</tspan><tspan dy="5"> T cells (X 10</tspan><tspan font-size="10.6" dy="-5">2</tspan><tspan dy="5">)</tspan></text>
<text transform="translate(459.2 537.0) rotate(90)" text-anchor="middle" font-weight="700" font-size="15.4">% of Total Response</text>
<text x="83.00" y="428.30" font-size="13.7" text-anchor="middle" font-weight="700">Pre-Vaccine</text>
<text x="187.50" y="428.30" font-size="13.7" text-anchor="middle" font-weight="700">Post-Vaccine</text>
<text x="261.90" y="428.40" font-size="13.2" text-anchor="start" font-weight="700">LMP2A<tspan font-size="9.1" dy="1.8">307-315</tspan></text>
<text x="366.80" y="429.60" font-size="13.2" text-anchor="start" font-weight="700">BMLF1<tspan font-size="9.1" dy="1.8">300-308</tspan></text>
<rect x="65.50" y="451.30" width="6.00" height="60.40" fill="#3a8ae0" stroke="#143f7c" stroke-width="0.8"/>
<rect x="76.88" y="505.30" width="6.00" height="6.40" fill="#5cb536" stroke="#245a12" stroke-width="0.8"/>
<rect x="88.26" y="507.30" width="6.00" height="4.40" fill="#e03826" stroke="#70150c" stroke-width="0.8"/>
<rect x="61.20" y="439.20" width="49.10" height="72.50" fill="none" stroke="#000" stroke-width="1.25"/>
<line x1="57.80" y1="441.70" x2="61.20" y2="441.70" stroke="#000" stroke-width="1.25" stroke-linecap="butt"/>
<text x="54.00" y="445.40" font-size="10.0" text-anchor="end" stroke="#000" stroke-width="0.25">3400</text>
<line x1="57.80" y1="476.50" x2="61.20" y2="476.50" stroke="#000" stroke-width="1.25" stroke-linecap="butt"/>
<text x="54.00" y="480.20" font-size="10.0" text-anchor="end" stroke="#000" stroke-width="0.25">1700</text>
<line x1="57.80" y1="511.70" x2="61.20" y2="511.70" stroke="#000" stroke-width="1.25" stroke-linecap="butt"/>
<text x="54.00" y="515.40" font-size="10.0" text-anchor="end" stroke="#000" stroke-width="0.25">0</text>
<line x1="59.40" y1="459.10" x2="61.20" y2="459.10" stroke="#000" stroke-width="1.25" stroke-linecap="butt"/>
<line x1="59.40" y1="494.10" x2="61.20" y2="494.10" stroke="#000" stroke-width="1.25" stroke-linecap="butt"/>
<line x1="110.30" y1="511.70" x2="113.70" y2="511.70" stroke="#000" stroke-width="1.25" stroke-linecap="butt"/>
<line x1="110.30" y1="504.45" x2="112.10" y2="504.45" stroke="#000" stroke-width="1.25" stroke-linecap="butt"/>
<line x1="110.30" y1="497.20" x2="112.10" y2="497.20" stroke="#000" stroke-width="1.25" stroke-linecap="butt"/>
<line x1="110.30" y1="489.95" x2="112.10" y2="489.95" stroke="#000" stroke-width="1.25" stroke-linecap="butt"/>
<line x1="110.30" y1="482.70" x2="112.10" y2="482.70" stroke="#000" stroke-width="1.25" stroke-linecap="butt"/>
<line x1="110.30" y1="475.45" x2="113.70" y2="475.45" stroke="#000" stroke-width="1.25" stroke-linecap="butt"/>
<line x1="110.30" y1="468.20" x2="112.10" y2="468.20" stroke="#000" stroke-width="1.25" stroke-linecap="butt"/>
<line x1="110.30" y1="460.95" x2="112.10" y2="460.95" stroke="#000" stroke-width="1.25" stroke-linecap="butt"/>
<line x1="110.30" y1="453.70" x2="112.10" y2="453.70" stroke="#000" stroke-width="1.25" stroke-linecap="butt"/>
<line x1="110.30" y1="446.45" x2="112.10" y2="446.45" stroke="#000" stroke-width="1.25" stroke-linecap="butt"/>
<line x1="110.30" y1="439.20" x2="113.70" y2="439.20" stroke="#000" stroke-width="1.25" stroke-linecap="butt"/>
<text x="117.30" y="442.70" font-size="9.4" text-anchor="start" stroke="#000" stroke-width="0.25">100</text>
<text x="117.30" y="478.95" font-size="9.4" text-anchor="start" stroke="#000" stroke-width="0.25">50</text>
<text x="117.30" y="515.20" font-size="9.4" text-anchor="start" stroke="#000" stroke-width="0.25">0</text>
<text x="95.50" y="510.00" font-size="9.3" text-anchor="start" stroke="#000" stroke-width="0.25">ND</text>
<rect x="170.30" y="480.30" width="6.00" height="31.40" fill="#3a8ae0" stroke="#143f7c" stroke-width="0.8"/>
<rect x="181.68" y="486.70" width="6.00" height="25.00" fill="#5cb536" stroke="#245a12" stroke-width="0.8"/>
<rect x="193.06" y="485.70" width="6.00" height="26.00" fill="#e03826" stroke="#70150c" stroke-width="0.8"/>
<rect x="204.44" y="506.00" width="6.00" height="5.70" fill="#9c9c9c" stroke="#484848" stroke-width="0.8"/>
<rect x="166.00" y="439.20" width="49.10" height="72.50" fill="none" stroke="#000" stroke-width="1.25"/>
<line x1="162.60" y1="440.30" x2="166.00" y2="440.30" stroke="#000" stroke-width="1.25" stroke-linecap="butt"/>
<text x="158.80" y="444.00" font-size="10.0" text-anchor="end" stroke="#000" stroke-width="0.25">3800</text>
<line x1="162.60" y1="475.80" x2="166.00" y2="475.80" stroke="#000" stroke-width="1.25" stroke-linecap="butt"/>
<text x="158.80" y="479.50" font-size="10.0" text-anchor="end" stroke="#000" stroke-width="0.25">1900</text>
<line x1="162.60" y1="511.70" x2="166.00" y2="511.70" stroke="#000" stroke-width="1.25" stroke-linecap="butt"/>
<text x="158.80" y="515.40" font-size="10.0" text-anchor="end" stroke="#000" stroke-width="0.25">0</text>
<line x1="164.20" y1="458.05" x2="166.00" y2="458.05" stroke="#000" stroke-width="1.25" stroke-linecap="butt"/>
<line x1="164.20" y1="493.75" x2="166.00" y2="493.75" stroke="#000" stroke-width="1.25" stroke-linecap="butt"/>
<line x1="215.10" y1="511.70" x2="218.50" y2="511.70" stroke="#000" stroke-width="1.25" stroke-linecap="butt"/>
<line x1="215.10" y1="504.45" x2="216.90" y2="504.45" stroke="#000" stroke-width="1.25" stroke-linecap="butt"/>
<line x1="215.10" y1="497.20" x2="216.90" y2="497.20" stroke="#000" stroke-width="1.25" stroke-linecap="butt"/>
<line x1="215.10" y1="489.95" x2="216.90" y2="489.95" stroke="#000" stroke-width="1.25" stroke-linecap="butt"/>
<line x1="215.10" y1="482.70" x2="216.90" y2="482.70" stroke="#000" stroke-width="1.25" stroke-linecap="butt"/>
<line x1="215.10" y1="475.45" x2="218.50" y2="475.45" stroke="#000" stroke-width="1.25" stroke-linecap="butt"/>
<line x1="215.10" y1="468.20" x2="216.90" y2="468.20" stroke="#000" stroke-width="1.25" stroke-linecap="butt"/>
<line x1="215.10" y1="460.95" x2="216.90" y2="460.95" stroke="#000" stroke-width="1.25" stroke-linecap="butt"/>
<line x1="215.10" y1="453.70" x2="216.90" y2="453.70" stroke="#000" stroke-width="1.25" stroke-linecap="butt"/>
<line x1="215.10" y1="446.45" x2="216.90" y2="446.45" stroke="#000" stroke-width="1.25" stroke-linecap="butt"/>
<line x1="215.10" y1="439.20" x2="218.50" y2="439.20" stroke="#000" stroke-width="1.25" stroke-linecap="butt"/>
<text x="222.10" y="442.70" font-size="9.4" text-anchor="start" stroke="#000" stroke-width="0.25">100</text>
<text x="222.10" y="478.95" font-size="9.4" text-anchor="start" stroke="#000" stroke-width="0.25">50</text>
<text x="222.10" y="515.20" font-size="9.4" text-anchor="start" stroke="#000" stroke-width="0.25">0</text>
<rect x="274.80" y="444.00" width="6.00" height="67.70" fill="#3a8ae0" stroke="#143f7c" stroke-width="0.8"/>
<rect x="286.18" y="508.30" width="6.00" height="3.40" fill="#5cb536" stroke="#245a12" stroke-width="0.8"/>
<rect x="270.50" y="439.20" width="49.10" height="72.50" fill="none" stroke="#000" stroke-width="1.25"/>
<line x1="267.10" y1="442.70" x2="270.50" y2="442.70" stroke="#000" stroke-width="1.25" stroke-linecap="butt"/>
<text x="263.30" y="446.40" font-size="10.0" text-anchor="end" stroke="#000" stroke-width="0.25">180</text>
<line x1="267.10" y1="477.00" x2="270.50" y2="477.00" stroke="#000" stroke-width="1.25" stroke-linecap="butt"/>
<text x="263.30" y="480.70" font-size="10.0" text-anchor="end" stroke="#000" stroke-width="0.25">90</text>
<line x1="267.10" y1="511.70" x2="270.50" y2="511.70" stroke="#000" stroke-width="1.25" stroke-linecap="butt"/>
<text x="263.30" y="515.40" font-size="10.0" text-anchor="end" stroke="#000" stroke-width="0.25">0</text>
<line x1="268.70" y1="459.85" x2="270.50" y2="459.85" stroke="#000" stroke-width="1.25" stroke-linecap="butt"/>
<line x1="268.70" y1="494.35" x2="270.50" y2="494.35" stroke="#000" stroke-width="1.25" stroke-linecap="butt"/>
<line x1="319.60" y1="511.70" x2="323.00" y2="511.70" stroke="#000" stroke-width="1.25" stroke-linecap="butt"/>
<line x1="319.60" y1="504.45" x2="321.40" y2="504.45" stroke="#000" stroke-width="1.25" stroke-linecap="butt"/>
<line x1="319.60" y1="497.20" x2="321.40" y2="497.20" stroke="#000" stroke-width="1.25" stroke-linecap="butt"/>
<line x1="319.60" y1="489.95" x2="321.40" y2="489.95" stroke="#000" stroke-width="1.25" stroke-linecap="butt"/>
<line x1="319.60" y1="482.70" x2="321.40" y2="482.70" stroke="#000" stroke-width="1.25" stroke-linecap="butt"/>
<line x1="319.60" y1="475.45" x2="323.00" y2="475.45" stroke="#000" stroke-width="1.25" stroke-linecap="butt"/>
<line x1="319.60" y1="468.20" x2="321.40" y2="468.20" stroke="#000" stroke-width="1.25" stroke-linecap="butt"/>
<line x1="319.60" y1="460.95" x2="321.40" y2="460.95" stroke="#000" stroke-width="1.25" stroke-linecap="butt"/>
<line x1="319.60" y1="453.70" x2="321.40" y2="453.70" stroke="#000" stroke-width="1.25" stroke-linecap="butt"/>
<line x1="319.60" y1="446.45" x2="321.40" y2="446.45" stroke="#000" stroke-width="1.25" stroke-linecap="butt"/>
<line x1="319.60" y1="439.20" x2="323.00" y2="439.20" stroke="#000" stroke-width="1.25" stroke-linecap="butt"/>
<text x="326.60" y="442.70" font-size="9.4" text-anchor="start" stroke="#000" stroke-width="0.25">100</text>
<text x="326.60" y="478.95" font-size="9.4" text-anchor="start" stroke="#000" stroke-width="0.25">50</text>
<text x="326.60" y="515.20" font-size="9.4" text-anchor="start" stroke="#000" stroke-width="0.25">0</text>
<rect x="381.50" y="481.00" width="6.00" height="30.70" fill="#3a8ae0" stroke="#143f7c" stroke-width="0.8"/>
<rect x="392.88" y="475.30" width="6.00" height="36.40" fill="#5cb536" stroke="#245a12" stroke-width="0.8"/>
<rect x="404.26" y="509.30" width="6.00" height="2.40" fill="#e03826" stroke="#70150c" stroke-width="0.8"/>
<rect x="415.64" y="510.30" width="6.00" height="1.40" fill="#9c9c9c" stroke="#484848" stroke-width="0.8"/>
<rect x="377.20" y="439.20" width="49.10" height="72.50" fill="none" stroke="#000" stroke-width="1.25"/>
<line x1="373.80" y1="440.30" x2="377.20" y2="440.30" stroke="#000" stroke-width="1.25" stroke-linecap="butt"/>
<text x="370.00" y="444.00" font-size="10.0" text-anchor="end" stroke="#000" stroke-width="0.25">5400</text>
<line x1="373.80" y1="475.80" x2="377.20" y2="475.80" stroke="#000" stroke-width="1.25" stroke-linecap="butt"/>
<text x="370.00" y="479.50" font-size="10.0" text-anchor="end" stroke="#000" stroke-width="0.25">2700</text>
<line x1="373.80" y1="511.70" x2="377.20" y2="511.70" stroke="#000" stroke-width="1.25" stroke-linecap="butt"/>
<text x="370.00" y="515.40" font-size="10.0" text-anchor="end" stroke="#000" stroke-width="0.25">0</text>
<line x1="375.40" y1="458.05" x2="377.20" y2="458.05" stroke="#000" stroke-width="1.25" stroke-linecap="butt"/>
<line x1="375.40" y1="493.75" x2="377.20" y2="493.75" stroke="#000" stroke-width="1.25" stroke-linecap="butt"/>
<line x1="426.30" y1="511.70" x2="429.70" y2="511.70" stroke="#000" stroke-width="1.25" stroke-linecap="butt"/>
<line x1="426.30" y1="504.45" x2="428.10" y2="504.45" stroke="#000" stroke-width="1.25" stroke-linecap="butt"/>
<line x1="426.30" y1="497.20" x2="428.10" y2="497.20" stroke="#000" stroke-width="1.25" stroke-linecap="butt"/>
<line x1="426.30" y1="489.95" x2="428.10" y2="489.95" stroke="#000" stroke-width="1.25" stroke-linecap="butt"/>
<line x1="426.30" y1="482.70" x2="428.10" y2="482.70" stroke="#000" stroke-width="1.25" stroke-linecap="butt"/>
<line x1="426.30" y1="475.45" x2="429.70" y2="475.45" stroke="#000" stroke-width="1.25" stroke-linecap="butt"/>
<line x1="426.30" y1="468.20" x2="428.10" y2="468.20" stroke="#000" stroke-width="1.25" stroke-linecap="butt"/>
<line x1="426.30" y1="460.95" x2="428.10" y2="460.95" stroke="#000" stroke-width="1.25" stroke-linecap="butt"/>
<line x1="426.30" y1="453.70" x2="428.10" y2="453.70" stroke="#000" stroke-width="1.25" stroke-linecap="butt"/>
<line x1="426.30" y1="446.45" x2="428.10" y2="446.45" stroke="#000" stroke-width="1.25" stroke-linecap="butt"/>
<line x1="426.30" y1="439.20" x2="429.70" y2="439.20" stroke="#000" stroke-width="1.25" stroke-linecap="butt"/>
<text x="433.30" y="442.70" font-size="9.4" text-anchor="start" stroke="#000" stroke-width="0.25">100</text>
<text x="433.30" y="478.95" font-size="9.4" text-anchor="start" stroke="#000" stroke-width="0.25">50</text>
<text x="433.30" y="515.20" font-size="9.4" text-anchor="start" stroke="#000" stroke-width="0.25">0</text>
<text x="248.00" y="550.00" font-size="15.1" text-anchor="middle" font-weight="700">Direct Responses</text>
<line x1="28.30" y1="555.60" x2="457.00" y2="555.60" stroke="#000" stroke-width="1.5" stroke-linecap="butt"/>
<rect x="65.50" y="566.50" width="6.00" height="72.70" fill="#3a8ae0" stroke="#143f7c" stroke-width="0.8"/>
<rect x="61.20" y="566.50" width="49.10" height="72.70" fill="none" stroke="#000" stroke-width="1.25"/>
<line x1="57.80" y1="569.70" x2="61.20" y2="569.70" stroke="#000" stroke-width="1.25" stroke-linecap="butt"/>
<text x="54.00" y="573.40" font-size="10.0" text-anchor="end" stroke="#000" stroke-width="0.25">1.2</text>
<line x1="57.80" y1="604.50" x2="61.20" y2="604.50" stroke="#000" stroke-width="1.25" stroke-linecap="butt"/>
<text x="54.00" y="608.20" font-size="10.0" text-anchor="end" stroke="#000" stroke-width="0.25">0.6</text>
<line x1="57.80" y1="639.20" x2="61.20" y2="639.20" stroke="#000" stroke-width="1.25" stroke-linecap="butt"/>
<text x="54.00" y="642.90" font-size="10.0" text-anchor="end" stroke="#000" stroke-width="0.25">0.0</text>
<line x1="59.40" y1="587.10" x2="61.20" y2="587.10" stroke="#000" stroke-width="1.25" stroke-linecap="butt"/>
<line x1="59.40" y1="621.85" x2="61.20" y2="621.85" stroke="#000" stroke-width="1.25" stroke-linecap="butt"/>
<line x1="110.30" y1="639.20" x2="113.70" y2="639.20" stroke="#000" stroke-width="1.25" stroke-linecap="butt"/>
<line x1="110.30" y1="631.93" x2="112.10" y2="631.93" stroke="#000" stroke-width="1.25" stroke-linecap="butt"/>
<line x1="110.30" y1="624.66" x2="112.10" y2="624.66" stroke="#000" stroke-width="1.25" stroke-linecap="butt"/>
<line x1="110.30" y1="617.39" x2="112.10" y2="617.39" stroke="#000" stroke-width="1.25" stroke-linecap="butt"/>
<line x1="110.30" y1="610.12" x2="112.10" y2="610.12" stroke="#000" stroke-width="1.25" stroke-linecap="butt"/>
<line x1="110.30" y1="602.85" x2="113.70" y2="602.85" stroke="#000" stroke-width="1.25" stroke-linecap="butt"/>
<line x1="110.30" y1="595.58" x2="112.10" y2="595.58" stroke="#000" stroke-width="1.25" stroke-linecap="butt"/>
<line x1="110.30" y1="588.31" x2="112.10" y2="588.31" stroke="#000" stroke-width="1.25" stroke-linecap="butt"/>
<line x1="110.30" y1="581.04" x2="112.10" y2="581.04" stroke="#000" stroke-width="1.25" stroke-linecap="butt"/>
<line x1="110.30" y1="573.77" x2="112.10" y2="573.77" stroke="#000" stroke-width="1.25" stroke-linecap="butt"/>
<line x1="110.30" y1="566.50" x2="113.70" y2="566.50" stroke="#000" stroke-width="1.25" stroke-linecap="butt"/>
<text x="117.30" y="570.00" font-size="9.4" text-anchor="start" stroke="#000" stroke-width="0.25">100</text>
<text x="117.30" y="606.35" font-size="9.4" text-anchor="start" stroke="#000" stroke-width="0.25">50</text>
<text x="117.30" y="642.70" font-size="9.4" text-anchor="start" stroke="#000" stroke-width="0.25">0</text>
<rect x="170.50" y="584.30" width="6.00" height="54.90" fill="#3a8ae0" stroke="#143f7c" stroke-width="0.8"/>
<rect x="181.88" y="637.70" width="6.00" height="1.50" fill="#5cb536" stroke="#245a12" stroke-width="0.8"/>
<rect x="193.26" y="624.30" width="6.00" height="14.90" fill="#e03826" stroke="#70150c" stroke-width="0.8"/>
<rect x="166.20" y="566.50" width="49.10" height="72.70" fill="none" stroke="#000" stroke-width="1.25"/>
<line x1="162.80" y1="585.70" x2="166.20" y2="585.70" stroke="#000" stroke-width="1.25" stroke-linecap="butt"/>
<text x="159.00" y="589.40" font-size="10.0" text-anchor="end" stroke="#000" stroke-width="0.25">2</text>
<line x1="162.80" y1="612.50" x2="166.20" y2="612.50" stroke="#000" stroke-width="1.25" stroke-linecap="butt"/>
<text x="159.00" y="616.20" font-size="10.0" text-anchor="end" stroke="#000" stroke-width="0.25">1</text>
<line x1="162.80" y1="639.20" x2="166.20" y2="639.20" stroke="#000" stroke-width="1.25" stroke-linecap="butt"/>
<text x="159.00" y="642.90" font-size="10.0" text-anchor="end" stroke="#000" stroke-width="0.25">0</text>
<line x1="164.40" y1="599.10" x2="166.20" y2="599.10" stroke="#000" stroke-width="1.25" stroke-linecap="butt"/>
<line x1="164.40" y1="625.85" x2="166.20" y2="625.85" stroke="#000" stroke-width="1.25" stroke-linecap="butt"/>
<line x1="164.40" y1="572.33" x2="166.20" y2="572.33" stroke="#000" stroke-width="1.25" stroke-linecap="butt"/>
<line x1="215.30" y1="639.20" x2="218.70" y2="639.20" stroke="#000" stroke-width="1.25" stroke-linecap="butt"/>
<line x1="215.30" y1="631.93" x2="217.10" y2="631.93" stroke="#000" stroke-width="1.25" stroke-linecap="butt"/>
<line x1="215.30" y1="624.66" x2="217.10" y2="624.66" stroke="#000" stroke-width="1.25" stroke-linecap="butt"/>
<line x1="215.30" y1="617.39" x2="217.10" y2="617.39" stroke="#000" stroke-width="1.25" stroke-linecap="butt"/>
<line x1="215.30" y1="610.12" x2="217.10" y2="610.12" stroke="#000" stroke-width="1.25" stroke-linecap="butt"/>
<line x1="215.30" y1="602.85" x2="218.70" y2="602.85" stroke="#000" stroke-width="1.25" stroke-linecap="butt"/>
<line x1="215.30" y1="595.58" x2="217.10" y2="595.58" stroke="#000" stroke-width="1.25" stroke-linecap="butt"/>
<line x1="215.30" y1="588.31" x2="217.10" y2="588.31" stroke="#000" stroke-width="1.25" stroke-linecap="butt"/>
<line x1="215.30" y1="581.04" x2="217.10" y2="581.04" stroke="#000" stroke-width="1.25" stroke-linecap="butt"/>
<line x1="215.30" y1="573.77" x2="217.10" y2="573.77" stroke="#000" stroke-width="1.25" stroke-linecap="butt"/>
<line x1="215.30" y1="566.50" x2="218.70" y2="566.50" stroke="#000" stroke-width="1.25" stroke-linecap="butt"/>
<text x="222.30" y="570.00" font-size="9.4" text-anchor="start" stroke="#000" stroke-width="0.25">100</text>
<text x="222.30" y="606.35" font-size="9.4" text-anchor="start" stroke="#000" stroke-width="0.25">50</text>
<text x="222.30" y="642.70" font-size="9.4" text-anchor="start" stroke="#000" stroke-width="0.25">0</text>
<rect x="274.80" y="566.50" width="6.00" height="72.70" fill="#3a8ae0" stroke="#143f7c" stroke-width="0.8"/>
<rect x="270.50" y="566.50" width="49.10" height="72.70" fill="none" stroke="#000" stroke-width="1.25"/>
<line x1="267.10" y1="570.70" x2="270.50" y2="570.70" stroke="#000" stroke-width="1.25" stroke-linecap="butt"/>
<text x="263.30" y="574.40" font-size="10.0" text-anchor="end" stroke="#000" stroke-width="0.25">0.44</text>
<line x1="267.10" y1="605.00" x2="270.50" y2="605.00" stroke="#000" stroke-width="1.25" stroke-linecap="butt"/>
<text x="263.30" y="608.70" font-size="10.0" text-anchor="end" stroke="#000" stroke-width="0.25">0.22</text>
<line x1="267.10" y1="639.20" x2="270.50" y2="639.20" stroke="#000" stroke-width="1.25" stroke-linecap="butt"/>
<text x="263.30" y="642.90" font-size="10.0" text-anchor="end" stroke="#000" stroke-width="0.25">0.00</text>
<line x1="268.70" y1="587.85" x2="270.50" y2="587.85" stroke="#000" stroke-width="1.25" stroke-linecap="butt"/>
<line x1="268.70" y1="622.10" x2="270.50" y2="622.10" stroke="#000" stroke-width="1.25" stroke-linecap="butt"/>
<line x1="319.60" y1="639.20" x2="323.00" y2="639.20" stroke="#000" stroke-width="1.25" stroke-linecap="butt"/>
<line x1="319.60" y1="631.93" x2="321.40" y2="631.93" stroke="#000" stroke-width="1.25" stroke-linecap="butt"/>
<line x1="319.60" y1="624.66" x2="321.40" y2="624.66" stroke="#000" stroke-width="1.25" stroke-linecap="butt"/>
<line x1="319.60" y1="617.39" x2="321.40" y2="617.39" stroke="#000" stroke-width="1.25" stroke-linecap="butt"/>
<line x1="319.60" y1="610.12" x2="321.40" y2="610.12" stroke="#000" stroke-width="1.25" stroke-linecap="butt"/>
<line x1="319.60" y1="602.85" x2="323.00" y2="602.85" stroke="#000" stroke-width="1.25" stroke-linecap="butt"/>
<line x1="319.60" y1="595.58" x2="321.40" y2="595.58" stroke="#000" stroke-width="1.25" stroke-linecap="butt"/>
<line x1="319.60" y1="588.31" x2="321.40" y2="588.31" stroke="#000" stroke-width="1.25" stroke-linecap="butt"/>
<line x1="319.60" y1="581.04" x2="321.40" y2="581.04" stroke="#000" stroke-width="1.25" stroke-linecap="butt"/>
<line x1="319.60" y1="573.77" x2="321.40" y2="573.77" stroke="#000" stroke-width="1.25" stroke-linecap="butt"/>
<line x1="319.60" y1="566.50" x2="323.00" y2="566.50" stroke="#000" stroke-width="1.25" stroke-linecap="butt"/>
<text x="326.60" y="570.00" font-size="9.4" text-anchor="start" stroke="#000" stroke-width="0.25">100</text>
<text x="326.60" y="606.35" font-size="9.4" text-anchor="start" stroke="#000" stroke-width="0.25">50</text>
<text x="326.60" y="642.70" font-size="9.4" text-anchor="start" stroke="#000" stroke-width="0.25">0</text>
<rect x="381.50" y="613.70" width="6.00" height="25.50" fill="#3a8ae0" stroke="#143f7c" stroke-width="0.8"/>
<rect x="392.88" y="621.30" width="6.00" height="17.90" fill="#5cb536" stroke="#245a12" stroke-width="0.8"/>
<rect x="404.26" y="622.30" width="6.00" height="16.90" fill="#e03826" stroke="#70150c" stroke-width="0.8"/>
<rect x="415.64" y="630.30" width="6.00" height="8.90" fill="#9c9c9c" stroke="#484848" stroke-width="0.8"/>
<rect x="377.20" y="566.50" width="49.10" height="72.70" fill="none" stroke="#000" stroke-width="1.25"/>
<line x1="373.80" y1="567.30" x2="377.20" y2="567.30" stroke="#000" stroke-width="1.25" stroke-linecap="butt"/>
<text x="370.00" y="571.00" font-size="10.0" text-anchor="end" stroke="#000" stroke-width="0.25">140</text>
<line x1="373.80" y1="603.30" x2="377.20" y2="603.30" stroke="#000" stroke-width="1.25" stroke-linecap="butt"/>
<text x="370.00" y="607.00" font-size="10.0" text-anchor="end" stroke="#000" stroke-width="0.25">70</text>
<line x1="373.80" y1="639.20" x2="377.20" y2="639.20" stroke="#000" stroke-width="1.25" stroke-linecap="butt"/>
<text x="370.00" y="642.90" font-size="10.0" text-anchor="end" stroke="#000" stroke-width="0.25">0</text>
<line x1="375.40" y1="585.30" x2="377.20" y2="585.30" stroke="#000" stroke-width="1.25" stroke-linecap="butt"/>
<line x1="375.40" y1="621.25" x2="377.20" y2="621.25" stroke="#000" stroke-width="1.25" stroke-linecap="butt"/>
<line x1="426.30" y1="639.20" x2="429.70" y2="639.20" stroke="#000" stroke-width="1.25" stroke-linecap="butt"/>
<line x1="426.30" y1="631.93" x2="428.10" y2="631.93" stroke="#000" stroke-width="1.25" stroke-linecap="butt"/>
<line x1="426.30" y1="624.66" x2="428.10" y2="624.66" stroke="#000" stroke-width="1.25" stroke-linecap="butt"/>
<line x1="426.30" y1="617.39" x2="428.10" y2="617.39" stroke="#000" stroke-width="1.25" stroke-linecap="butt"/>
<line x1="426.30" y1="610.12" x2="428.10" y2="610.12" stroke="#000" stroke-width="1.25" stroke-linecap="butt"/>
<line x1="426.30" y1="602.85" x2="429.70" y2="602.85" stroke="#000" stroke-width="1.25" stroke-linecap="butt"/>
<line x1="426.30" y1="595.58" x2="428.10" y2="595.58" stroke="#000" stroke-width="1.25" stroke-linecap="butt"/>
<line x1="426.30" y1="588.31" x2="428.10" y2="588.31" stroke="#000" stroke-width="1.25" stroke-linecap="butt"/>
<line x1="426.30" y1="581.04" x2="428.10" y2="581.04" stroke="#000" stroke-width="1.25" stroke-linecap="butt"/>
<line x1="426.30" y1="573.77" x2="428.10" y2="573.77" stroke="#000" stroke-width="1.25" stroke-linecap="butt"/>
<line x1="426.30" y1="566.50" x2="429.70" y2="566.50" stroke="#000" stroke-width="1.25" stroke-linecap="butt"/>
<text x="433.30" y="570.00" font-size="9.4" text-anchor="start" stroke="#000" stroke-width="0.25">100</text>
<text x="433.30" y="606.35" font-size="9.4" text-anchor="start" stroke="#000" stroke-width="0.25">50</text>
<text x="433.30" y="642.70" font-size="9.4" text-anchor="start" stroke="#000" stroke-width="0.25">0</text>
<rect x="186.4" y="673.8" width="257.2" height="23.4" fill="#fff" stroke="#000" stroke-width="1.4"/>
<rect x="193.60" y="678.60" width="11.2" height="11.2" fill="#f39a34" stroke="#151515" stroke-width="1.3"/>
<text x="210.50" y="689.40" font-size="13.8" stroke="#000" stroke-width="0.25">T<tspan font-size="10.1" dy="3.2">N</tspan></text>
<rect x="243.60" y="680.80" width="11.2" height="11.2" fill="#70eef6" stroke="#151515" stroke-width="1.3"/>
<text x="260.80" y="691.80" font-size="13.8" stroke="#000" stroke-width="0.25">T<tspan font-size="10.1" dy="3.2">SCM</tspan></text>
<text x="309.00" y="690.20" font-size="13.8" text-anchor="start" stroke="#000" stroke-width="0.25">ND = Not Determined</text>
<text x="15.4" y="722.6" font-weight="700" font-size="16.6">C<tspan font-size="15.3"> HD44 Naive and Memory Stem Cell Responses</tspan></text>
<text x="247.60" y="745.30" font-size="15.1" text-anchor="middle" font-weight="700">Day 14 Cultured Responses</text>
<line x1="57.30" y1="751.00" x2="442.30" y2="751.00" stroke="#000" stroke-width="1.5" stroke-linecap="butt"/>
<text x="66.70" y="767.70" font-size="13.2" text-anchor="start" font-weight="700">Influenza M1<tspan font-size="9.1" dy="1.8">58-66</tspan></text>
<text x="196.30" y="769.20" font-size="13.2" text-anchor="start" font-weight="700">LMP2A<tspan font-size="9.1" dy="1.8">307-315</tspan></text>
<text x="285.90" y="769.20" font-size="13.2" text-anchor="start" font-weight="700">BMLF1<tspan font-size="9.1" dy="1.8">300-308</tspan></text>
<text x="372.00" y="764.70" font-size="13.2" text-anchor="start" font-weight="700">pp65<tspan font-size="9.1" dy="1.8">417-426</tspan></text>
<text transform="translate(32.9 812.0) rotate(-90)" text-anchor="middle" font-weight="700" font-size="15.2"># IFN&#947;<tspan font-size="10.6" dy="-5">+</tspan><tspan dy="5">/</tspan></text><text transform="translate(51.8 811.5) rotate(-90)" text-anchor="middle" font-weight="700" font-size="15.2">10<tspan font-size="10.6" dy="-5">6</tspan><tspan dy="5"> CD8</tspan><tspan font-size="10.6" dy="-5">+</tspan><tspan dy="5"> T cells</tspan></text>
<rect x="113.50" y="777.50" width="6.00" height="71.90" fill="#f39a34" stroke="#8a5512" stroke-width="0.8"/>
<rect x="109.70" y="777.50" width="24.70" height="71.90" fill="none" stroke="#000" stroke-width="1.25"/>
<line x1="100.10" y1="777.50" x2="109.70" y2="777.50" stroke="#000" stroke-width="1.25" stroke-linecap="butt"/>
<text x="95.90" y="780.90" font-size="10.0" text-anchor="end" stroke="#000" stroke-width="0.25">1700</text>
<line x1="100.10" y1="813.30" x2="109.70" y2="813.30" stroke="#000" stroke-width="1.25" stroke-linecap="butt"/>
<text x="95.90" y="816.70" font-size="10.0" text-anchor="end" stroke="#000" stroke-width="0.25">850</text>
<line x1="100.10" y1="849.40" x2="109.70" y2="849.40" stroke="#000" stroke-width="1.25" stroke-linecap="butt"/>
<text x="95.90" y="852.80" font-size="10.0" text-anchor="end" stroke="#000" stroke-width="0.25">0</text>
<line x1="104.40" y1="795.40" x2="109.70" y2="795.40" stroke="#000" stroke-width="1.25" stroke-linecap="butt"/>
<line x1="104.40" y1="831.35" x2="109.70" y2="831.35" stroke="#000" stroke-width="1.25" stroke-linecap="butt"/>
<text x="120.50" y="847.50" font-size="9.3" text-anchor="start" stroke="#000" stroke-width="0.25">ND</text>
<rect x="209.60" y="777.50" width="24.70" height="71.90" fill="none" stroke="#000" stroke-width="1.25"/>
<line x1="200.00" y1="777.50" x2="209.60" y2="777.50" stroke="#000" stroke-width="1.25" stroke-linecap="butt"/>
<text x="195.80" y="780.90" font-size="10.0" text-anchor="end" stroke="#000" stroke-width="0.25">10</text>
<line x1="200.00" y1="813.30" x2="209.60" y2="813.30" stroke="#000" stroke-width="1.25" stroke-linecap="butt"/>
<text x="195.80" y="816.70" font-size="10.0" text-anchor="end" stroke="#000" stroke-width="0.25">5</text>
<line x1="200.00" y1="849.40" x2="209.60" y2="849.40" stroke="#000" stroke-width="1.25" stroke-linecap="butt"/>
<text x="195.80" y="852.80" font-size="10.0" text-anchor="end" stroke="#000" stroke-width="0.25">0</text>
<line x1="204.30" y1="795.40" x2="209.60" y2="795.40" stroke="#000" stroke-width="1.25" stroke-linecap="butt"/>
<line x1="204.30" y1="831.35" x2="209.60" y2="831.35" stroke="#000" stroke-width="1.25" stroke-linecap="butt"/>
<text x="219.30" y="847.50" font-size="9.3" text-anchor="start" stroke="#000" stroke-width="0.25">ND</text>
<rect x="318.80" y="777.50" width="5.50" height="71.90" fill="#f39a34" stroke="#8a5512" stroke-width="0.8"/>
<rect x="314.80" y="777.50" width="24.70" height="71.90" fill="none" stroke="#000" stroke-width="1.25"/>
<line x1="305.20" y1="779.50" x2="314.80" y2="779.50" stroke="#000" stroke-width="1.25" stroke-linecap="butt"/>
<text x="301.00" y="782.90" font-size="10.0" text-anchor="end" stroke="#000" stroke-width="0.25">38000</text>
<line x1="305.20" y1="814.30" x2="314.80" y2="814.30" stroke="#000" stroke-width="1.25" stroke-linecap="butt"/>
<text x="301.00" y="817.70" font-size="10.0" text-anchor="end" stroke="#000" stroke-width="0.25">19000</text>
<line x1="305.20" y1="849.40" x2="314.80" y2="849.40" stroke="#000" stroke-width="1.25" stroke-linecap="butt"/>
<text x="301.00" y="852.80" font-size="10.0" text-anchor="end" stroke="#000" stroke-width="0.25">0</text>
<line x1="309.50" y1="796.90" x2="314.80" y2="796.90" stroke="#000" stroke-width="1.25" stroke-linecap="butt"/>
<line x1="309.50" y1="831.85" x2="314.80" y2="831.85" stroke="#000" stroke-width="1.25" stroke-linecap="butt"/>
<text x="324.50" y="847.50" font-size="9.3" text-anchor="start" stroke="#000" stroke-width="0.25">ND</text>
<rect x="399.60" y="777.50" width="24.70" height="71.90" fill="none" stroke="#000" stroke-width="1.25"/>
<line x1="390.00" y1="777.50" x2="399.60" y2="777.50" stroke="#000" stroke-width="1.25" stroke-linecap="butt"/>
<text x="385.80" y="780.90" font-size="10.0" text-anchor="end" stroke="#000" stroke-width="0.25">10</text>
<line x1="390.00" y1="813.30" x2="399.60" y2="813.30" stroke="#000" stroke-width="1.25" stroke-linecap="butt"/>
<text x="385.80" y="816.70" font-size="10.0" text-anchor="end" stroke="#000" stroke-width="0.25">5</text>
<line x1="390.00" y1="849.40" x2="399.60" y2="849.40" stroke="#000" stroke-width="1.25" stroke-linecap="butt"/>
<text x="385.80" y="852.80" font-size="10.0" text-anchor="end" stroke="#000" stroke-width="0.25">0</text>
<line x1="394.30" y1="795.40" x2="399.60" y2="795.40" stroke="#000" stroke-width="1.25" stroke-linecap="butt"/>
<line x1="394.30" y1="831.35" x2="399.60" y2="831.35" stroke="#000" stroke-width="1.25" stroke-linecap="butt"/>
<text x="410.80" y="847.50" font-size="9.3" text-anchor="start" stroke="#000" stroke-width="0.25">ND</text>
<text x="15.4" y="903.0" font-weight="700" font-size="16.6">D<tspan font-size="15.3"> HD43 Naive and Memory Stem Cell Responses</tspan></text>
<text x="214.70" y="925.70" font-size="15.1" text-anchor="middle" font-weight="700">Day 14 Cultured Responses</text>
<line x1="57.30" y1="932.30" x2="358.70" y2="932.30" stroke="#000" stroke-width="1.5" stroke-linecap="butt"/>
<text x="65.70" y="951.00" font-size="13.2" text-anchor="start" font-weight="700">Influenza M1<tspan font-size="9.1" dy="1.8">58-66</tspan></text>
<text x="196.30" y="949.20" font-size="13.2" text-anchor="start" font-weight="700">LMP2A<tspan font-size="9.1" dy="1.8">307-315</tspan></text>
<text x="292.70" y="948.30" font-size="13.2" text-anchor="start" font-weight="700">BMLF1<tspan font-size="9.1" dy="1.8">300-308</tspan></text>
<text transform="translate(32.9 983.6) rotate(-90)" text-anchor="middle" font-weight="700" font-size="15.2"># IFN&#947;<tspan font-size="10.6" dy="-5">+</tspan><tspan dy="5">/</tspan></text><text transform="translate(51.8 983.0) rotate(-90)" text-anchor="middle" font-weight="700" font-size="15.2">10<tspan font-size="10.6" dy="-5">6</tspan><tspan dy="5"> CD8</tspan><tspan font-size="10.6" dy="-5">+</tspan><tspan dy="5"> T cells</tspan></text>
<rect x="124.50" y="958.10" width="5.80" height="72.30" fill="#70eef6" stroke="#5a6a70" stroke-width="0.8"/>
<rect x="109.70" y="958.10" width="24.70" height="72.30" fill="none" stroke="#000" stroke-width="1.25"/>
<line x1="100.10" y1="958.10" x2="109.70" y2="958.10" stroke="#000" stroke-width="1.25" stroke-linecap="butt"/>
<text x="95.90" y="961.50" font-size="10.0" text-anchor="end" stroke="#000" stroke-width="0.25">16600</text>
<line x1="100.10" y1="994.20" x2="109.70" y2="994.20" stroke="#000" stroke-width="1.25" stroke-linecap="butt"/>
<text x="95.90" y="997.60" font-size="10.0" text-anchor="end" stroke="#000" stroke-width="0.25">8300</text>
<line x1="100.10" y1="1030.40" x2="109.70" y2="1030.40" stroke="#000" stroke-width="1.25" stroke-linecap="butt"/>
<text x="95.90" y="1033.80" font-size="10.0" text-anchor="end" stroke="#000" stroke-width="0.25">0</text>
<line x1="104.40" y1="976.15" x2="109.70" y2="976.15" stroke="#000" stroke-width="1.25" stroke-linecap="butt"/>
<line x1="104.40" y1="1012.30" x2="109.70" y2="1012.30" stroke="#000" stroke-width="1.25" stroke-linecap="butt"/>
<rect x="224.30" y="958.10" width="5.80" height="72.30" fill="#70eef6" stroke="#5a6a70" stroke-width="0.8"/>
<rect x="209.60" y="958.10" width="24.70" height="72.30" fill="none" stroke="#000" stroke-width="1.25"/>
<line x1="200.00" y1="960.30" x2="209.60" y2="960.30" stroke="#000" stroke-width="1.25" stroke-linecap="butt"/>
<text x="195.80" y="963.70" font-size="10.0" text-anchor="end" stroke="#000" stroke-width="0.25">300</text>
<line x1="200.00" y1="995.40" x2="209.60" y2="995.40" stroke="#000" stroke-width="1.25" stroke-linecap="butt"/>
<text x="195.80" y="998.80" font-size="10.0" text-anchor="end" stroke="#000" stroke-width="0.25">150</text>
<line x1="200.00" y1="1030.40" x2="209.60" y2="1030.40" stroke="#000" stroke-width="1.25" stroke-linecap="butt"/>
<text x="195.80" y="1033.80" font-size="10.0" text-anchor="end" stroke="#000" stroke-width="0.25">0</text>
<line x1="204.30" y1="977.85" x2="209.60" y2="977.85" stroke="#000" stroke-width="1.25" stroke-linecap="butt"/>
<line x1="204.30" y1="1012.90" x2="209.60" y2="1012.90" stroke="#000" stroke-width="1.25" stroke-linecap="butt"/>
<rect x="318.80" y="1014.00" width="5.60" height="16.40" fill="#f39a34" stroke="#8a5512" stroke-width="0.8"/>
<rect x="329.60" y="975.70" width="5.60" height="54.70" fill="#70eef6" stroke="#5a6a70" stroke-width="0.8"/>
<rect x="314.80" y="958.10" width="24.70" height="72.30" fill="none" stroke="#000" stroke-width="1.25"/>
<line x1="305.20" y1="958.10" x2="314.80" y2="958.10" stroke="#000" stroke-width="1.25" stroke-linecap="butt"/>
<text x="301.00" y="961.50" font-size="10.0" text-anchor="end" stroke="#000" stroke-width="0.25">88000</text>
<line x1="305.20" y1="994.20" x2="314.80" y2="994.20" stroke="#000" stroke-width="1.25" stroke-linecap="butt"/>
<text x="301.00" y="997.60" font-size="10.0" text-anchor="end" stroke="#000" stroke-width="0.25">44000</text>
<line x1="305.20" y1="1030.40" x2="314.80" y2="1030.40" stroke="#000" stroke-width="1.25" stroke-linecap="butt"/>
<text x="301.00" y="1033.80" font-size="10.0" text-anchor="end" stroke="#000" stroke-width="0.25">0</text>
<line x1="309.50" y1="976.15" x2="314.80" y2="976.15" stroke="#000" stroke-width="1.25" stroke-linecap="butt"/>
<line x1="309.50" y1="1012.30" x2="314.80" y2="1012.30" stroke="#000" stroke-width="1.25" stroke-linecap="butt"/>
</svg></body></html>
